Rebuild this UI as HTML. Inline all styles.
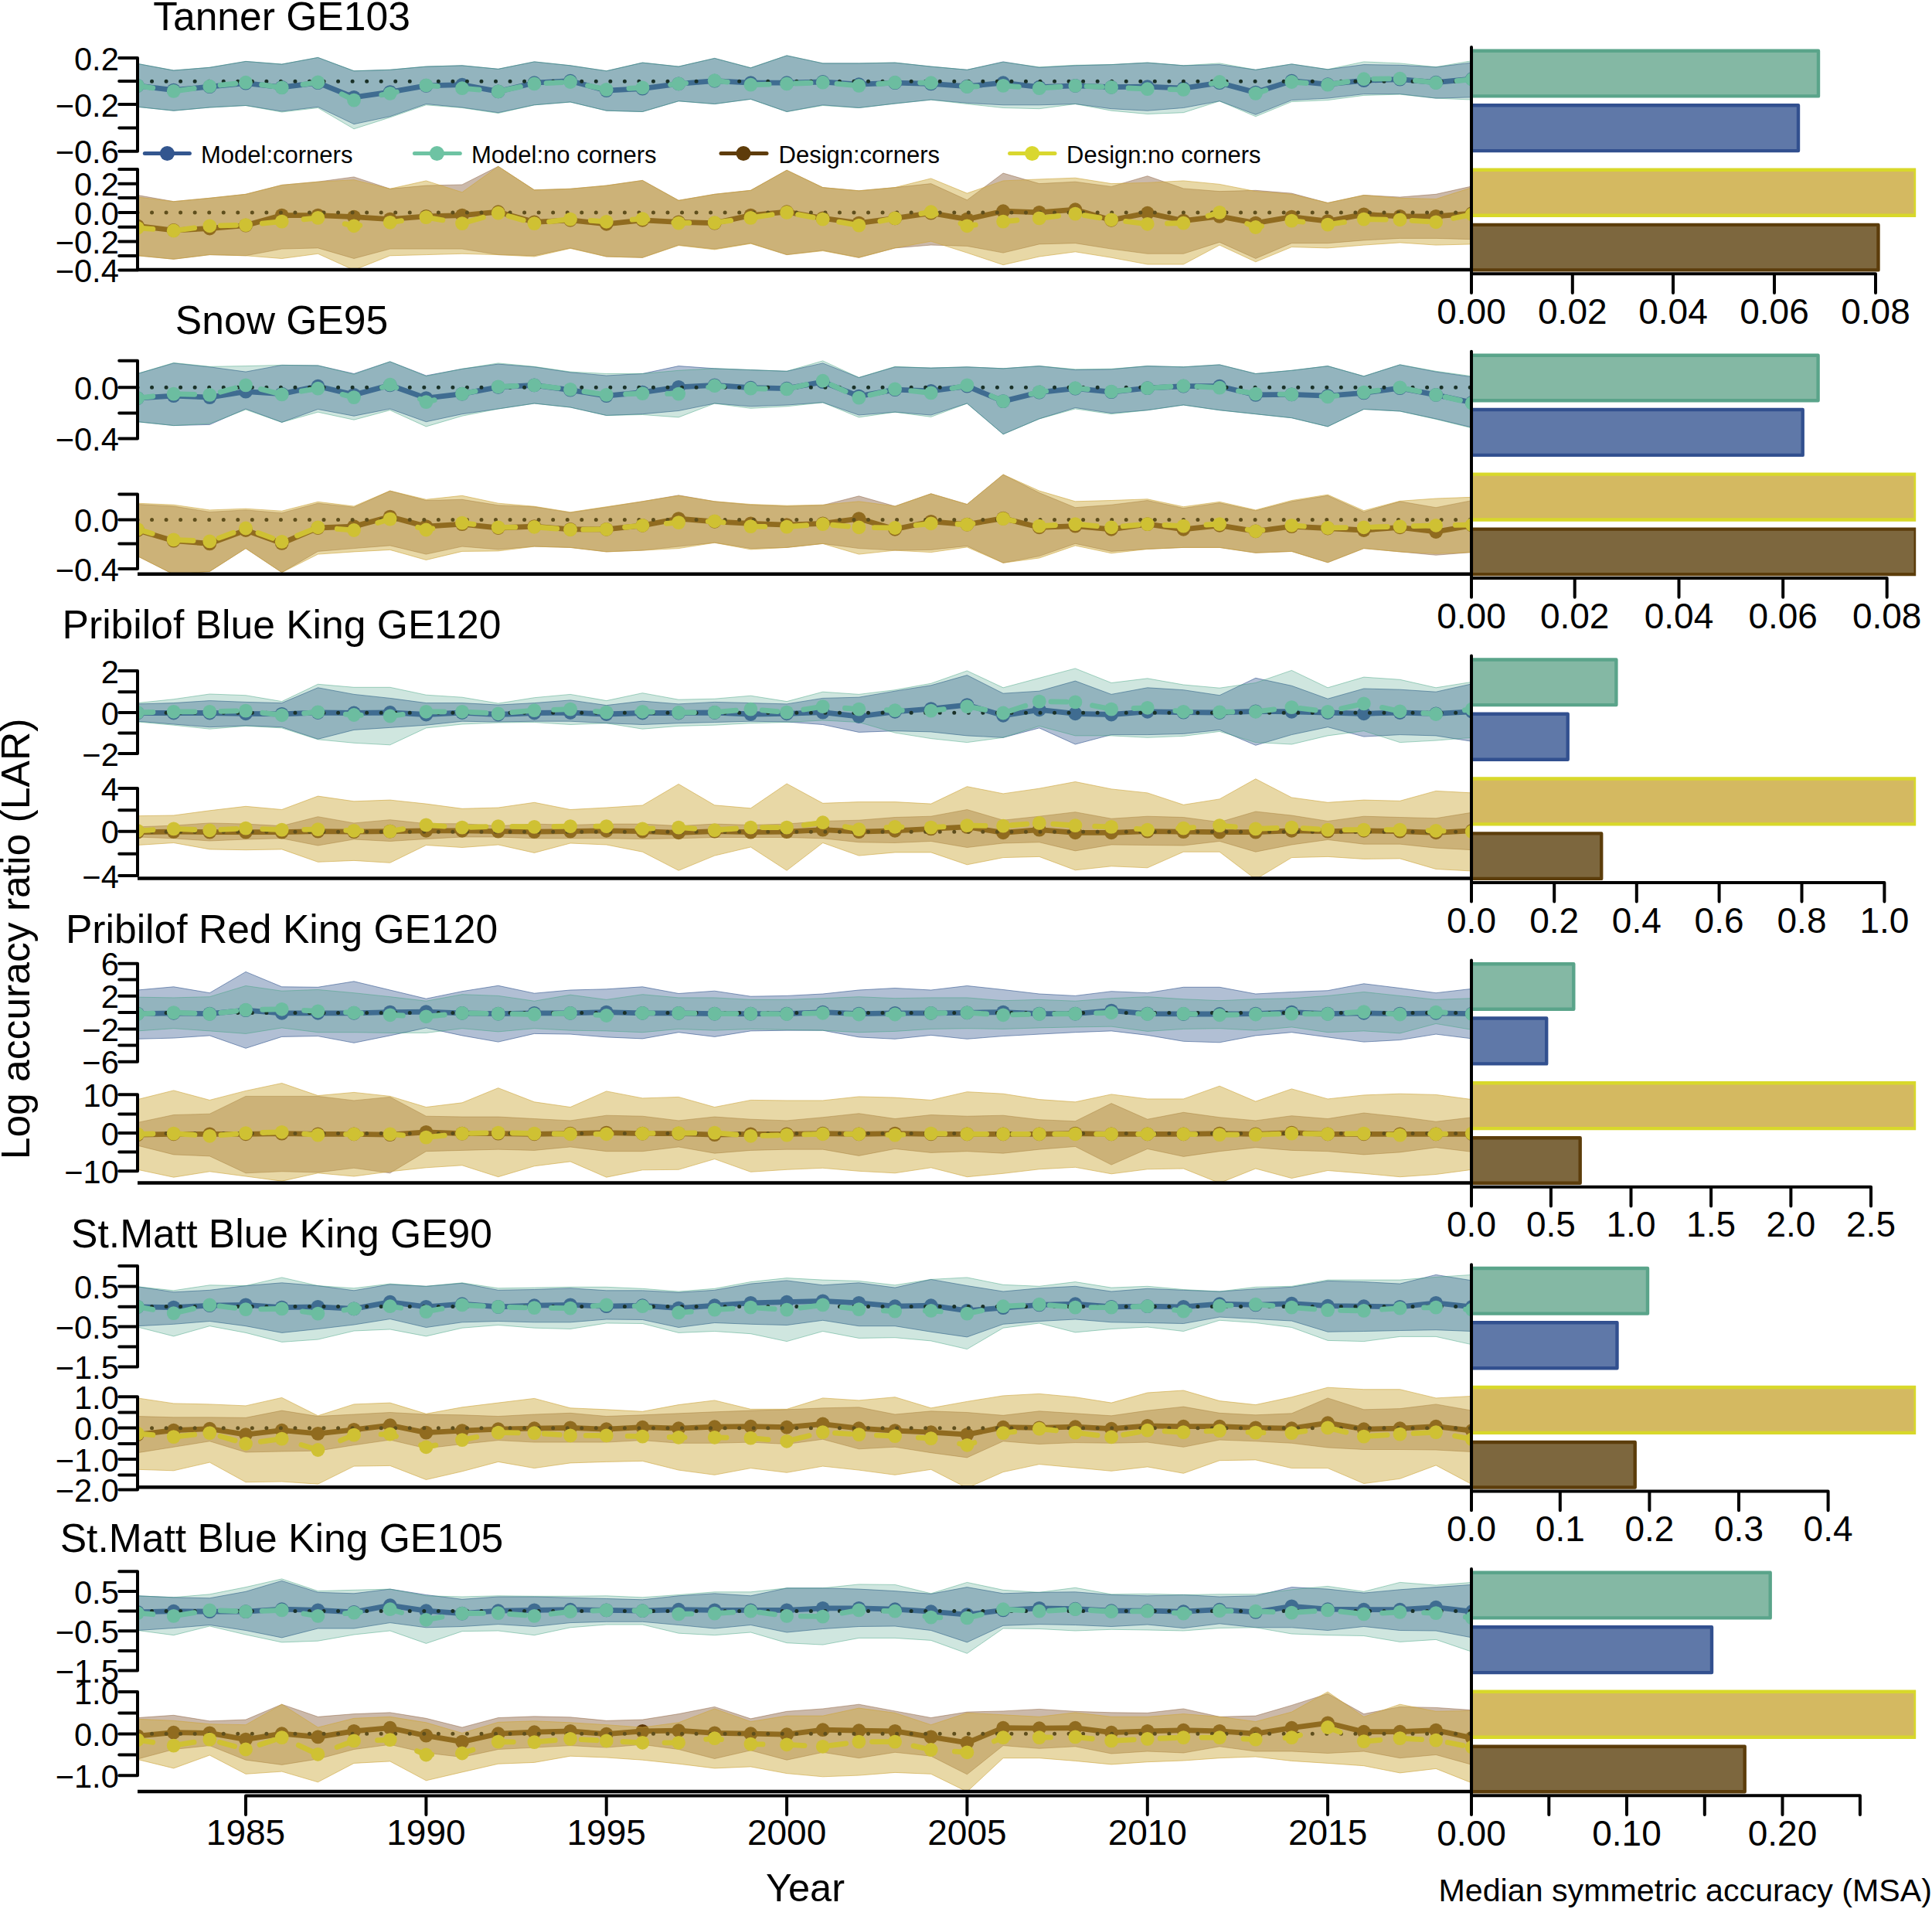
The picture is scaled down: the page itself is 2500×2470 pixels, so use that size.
<!DOCTYPE html><html><head><meta charset="utf-8"><title>LAR and MSA by stock</title>
<style>html,body{margin:0;padding:0;background:#fff}svg{display:block}text{font-family:"Liberation Sans", Arial, Helvetica, sans-serif;fill:#000}.ax{stroke:#000;stroke-width:4;fill:none;stroke-linecap:round;stroke-linejoin:miter}.yl{font-size:41.6px;text-anchor:end}.xl{font-size:46px;text-anchor:middle}.tt{font-size:51.6px;text-anchor:middle}.lg{font-size:31px}.z{stroke:#000;stroke-width:5;stroke-linecap:round;stroke-dasharray:0 18.54;fill:none}</style></head><body>
<svg width="2500" height="2470" viewBox="0 0 2500 2470">
<defs><clipPath id="cp"><rect x="178" y="0" width="1726" height="2470"/></clipPath><clipPath id="cb"><rect x="1904" y="0" width="575.2" height="2470"/></clipPath></defs>
<rect width="2500" height="2470" fill="#fff"/>
<!-- row 1 -->
<text class="tt" x="364.5" y="38.5">Tanner GE103</text>
<g clip-path="url(#cp)">
<polygon points="178.0,82.4 224.7,91.1 271.3,87.3 318.0,79.4 364.7,83.1 411.4,74.4 458.0,91.8 504.7,90.3 551.4,86.1 598.0,84.8 644.7,89.3 691.4,79.9 738.0,84.8 784.7,91.8 831.4,81.1 878.1,86.1 924.7,75.4 971.4,87.8 1018.1,71.9 1064.7,81.9 1111.4,81.9 1158.1,81.1 1204.7,86.1 1251.4,90.3 1298.1,79.9 1344.8,87.3 1391.4,84.8 1438.1,83.6 1484.8,81.1 1531.4,84.8 1578.1,83.6 1624.8,90.3 1671.4,82.9 1718.1,89.8 1764.8,83.6 1811.5,84.3 1858.1,86.8 1904.8,81.1 1904.8,125.8 1858.1,127.1 1811.5,121.6 1764.8,121.6 1718.1,127.1 1671.4,129.6 1624.8,148.2 1578.1,130.8 1531.4,139.5 1484.8,143.2 1438.1,140.7 1391.4,134.5 1344.8,135.8 1298.1,135.8 1251.4,133.3 1204.7,129.1 1158.1,134.0 1111.4,139.5 1064.7,135.8 1018.1,144.5 971.4,128.3 924.7,134.5 878.1,130.8 831.4,144.5 784.7,143.2 738.0,132.0 691.4,135.8 644.7,145.7 598.0,139.0 551.4,134.5 504.7,150.7 458.0,160.6 411.4,138.3 364.7,144.0 318.0,136.5 271.3,139.0 224.7,143.2 178.0,138.3" fill="rgba(51,86,143,0.38)" stroke="rgba(51,86,143,0.6)" stroke-width="1"/>
<polyline points="178.0,110.9 224.7,116.6 271.3,112.2 318.0,107.7 364.7,112.9 411.4,107.2 458.0,125.8 504.7,119.1 551.4,110.9 598.0,109.7 644.7,118.4 691.4,107.2 738.0,104.7 784.7,117.1 831.4,114.7 878.1,108.4 924.7,104.7 971.4,107.2 1018.1,107.2 1064.7,106.0 1111.4,109.2 1158.1,107.2 1204.7,108.4 1251.4,111.7 1298.1,107.2 1344.8,112.7 1391.4,110.9 1438.1,112.7 1484.8,112.2 1531.4,114.2 1578.1,107.2 1624.8,119.6 1671.4,104.7 1718.1,109.2 1764.8,104.2 1811.5,102.7 1858.1,106.7 1904.8,102.2" fill="none" stroke="#44619a" stroke-width="6.8" stroke-linejoin="round" stroke-linecap="round"/>
<g fill="#44619a"><circle cx="178.0" cy="110.9" r="8.9"/><circle cx="224.7" cy="116.6" r="8.9"/><circle cx="271.3" cy="112.2" r="8.9"/><circle cx="318.0" cy="107.7" r="8.9"/><circle cx="364.7" cy="112.9" r="8.9"/><circle cx="411.4" cy="107.2" r="8.9"/><circle cx="458.0" cy="125.8" r="8.9"/><circle cx="504.7" cy="119.1" r="8.9"/><circle cx="551.4" cy="110.9" r="8.9"/><circle cx="598.0" cy="109.7" r="8.9"/><circle cx="644.7" cy="118.4" r="8.9"/><circle cx="691.4" cy="107.2" r="8.9"/><circle cx="738.0" cy="104.7" r="8.9"/><circle cx="784.7" cy="117.1" r="8.9"/><circle cx="831.4" cy="114.7" r="8.9"/><circle cx="878.1" cy="108.4" r="8.9"/><circle cx="924.7" cy="104.7" r="8.9"/><circle cx="971.4" cy="107.2" r="8.9"/><circle cx="1018.1" cy="107.2" r="8.9"/><circle cx="1064.7" cy="106.0" r="8.9"/><circle cx="1111.4" cy="109.2" r="8.9"/><circle cx="1158.1" cy="107.2" r="8.9"/><circle cx="1204.7" cy="108.4" r="8.9"/><circle cx="1251.4" cy="111.7" r="8.9"/><circle cx="1298.1" cy="107.2" r="8.9"/><circle cx="1344.8" cy="112.7" r="8.9"/><circle cx="1391.4" cy="110.9" r="8.9"/><circle cx="1438.1" cy="112.7" r="8.9"/><circle cx="1484.8" cy="112.2" r="8.9"/><circle cx="1531.4" cy="114.2" r="8.9"/><circle cx="1578.1" cy="107.2" r="8.9"/><circle cx="1624.8" cy="119.6" r="8.9"/><circle cx="1671.4" cy="104.7" r="8.9"/><circle cx="1718.1" cy="109.2" r="8.9"/><circle cx="1764.8" cy="104.2" r="8.9"/><circle cx="1811.5" cy="102.7" r="8.9"/><circle cx="1858.1" cy="106.7" r="8.9"/><circle cx="1904.8" cy="102.2" r="8.9"/></g>
<line class="z" x1="178" y1="105.2" x2="1904" y2="105.2" style="stroke:#141411"/>
<polygon points="178.0,82.4 224.7,91.1 271.3,87.3 318.0,79.4 364.7,83.1 411.4,74.4 458.0,91.8 504.7,90.3 551.4,86.1 598.0,84.8 644.7,89.3 691.4,79.9 738.0,84.8 784.7,91.8 831.4,81.1 878.1,86.1 924.7,75.4 971.4,87.8 1018.1,71.9 1064.7,81.9 1111.4,81.9 1158.1,81.1 1204.7,86.1 1251.4,90.3 1298.1,80.4 1344.8,86.8 1391.4,84.3 1438.1,83.6 1484.8,81.1 1531.4,84.8 1578.1,81.9 1624.8,90.3 1671.4,82.9 1718.1,89.8 1764.8,79.9 1811.5,81.9 1858.1,86.8 1904.8,78.6 1904.8,129.1 1858.1,127.1 1811.5,122.1 1764.8,123.4 1718.1,129.6 1671.4,131.6 1624.8,150.7 1578.1,130.8 1531.4,145.7 1484.8,147.5 1438.1,143.2 1391.4,134.5 1344.8,140.7 1298.1,139.5 1251.4,134.5 1204.7,129.1 1158.1,134.0 1111.4,139.5 1064.7,136.5 1018.1,144.5 971.4,128.3 924.7,134.5 878.1,130.8 831.4,144.5 784.7,143.2 738.0,132.0 691.4,135.8 644.7,146.5 598.0,139.5 551.4,135.8 504.7,151.9 458.0,166.8 411.4,139.5 364.7,145.0 318.0,136.5 271.3,139.0 224.7,143.2 178.0,138.3" fill="rgba(46,146,116,0.23)" stroke="rgba(60,160,125,0.45)" stroke-width="1"/>
<polyline points="178.0,110.9 224.7,117.9 271.3,111.7 318.0,106.7 364.7,113.4 411.4,106.5 458.0,129.6 504.7,120.9 551.4,110.4 598.0,114.2 644.7,118.4 691.4,108.4 738.0,106.0 784.7,115.9 831.4,113.4 878.1,108.4 924.7,104.2 971.4,109.7 1018.1,108.4 1064.7,106.7 1111.4,110.9 1158.1,106.7 1204.7,107.2 1251.4,112.2 1298.1,110.9 1344.8,114.2 1391.4,110.9 1438.1,112.9 1484.8,115.2 1531.4,115.9 1578.1,106.0 1624.8,120.9 1671.4,106.0 1718.1,109.7 1764.8,102.2 1811.5,101.7 1858.1,107.2 1904.8,102.7" fill="none" stroke="#6cbda0" stroke-width="6.8" stroke-dasharray="20 34" stroke-linecap="round" stroke-linejoin="round"/>
<g fill="#6cbda0"><circle cx="178.0" cy="110.9" r="8.9"/><circle cx="224.7" cy="117.9" r="8.9"/><circle cx="271.3" cy="111.7" r="8.9"/><circle cx="318.0" cy="106.7" r="8.9"/><circle cx="364.7" cy="113.4" r="8.9"/><circle cx="411.4" cy="106.5" r="8.9"/><circle cx="458.0" cy="129.6" r="8.9"/><circle cx="504.7" cy="120.9" r="8.9"/><circle cx="551.4" cy="110.4" r="8.9"/><circle cx="598.0" cy="114.2" r="8.9"/><circle cx="644.7" cy="118.4" r="8.9"/><circle cx="691.4" cy="108.4" r="8.9"/><circle cx="738.0" cy="106.0" r="8.9"/><circle cx="784.7" cy="115.9" r="8.9"/><circle cx="831.4" cy="113.4" r="8.9"/><circle cx="878.1" cy="108.4" r="8.9"/><circle cx="924.7" cy="104.2" r="8.9"/><circle cx="971.4" cy="109.7" r="8.9"/><circle cx="1018.1" cy="108.4" r="8.9"/><circle cx="1064.7" cy="106.7" r="8.9"/><circle cx="1111.4" cy="110.9" r="8.9"/><circle cx="1158.1" cy="106.7" r="8.9"/><circle cx="1204.7" cy="107.2" r="8.9"/><circle cx="1251.4" cy="112.2" r="8.9"/><circle cx="1298.1" cy="110.9" r="8.9"/><circle cx="1344.8" cy="114.2" r="8.9"/><circle cx="1391.4" cy="110.9" r="8.9"/><circle cx="1438.1" cy="112.9" r="8.9"/><circle cx="1484.8" cy="115.2" r="8.9"/><circle cx="1531.4" cy="115.9" r="8.9"/><circle cx="1578.1" cy="106.0" r="8.9"/><circle cx="1624.8" cy="120.9" r="8.9"/><circle cx="1671.4" cy="106.0" r="8.9"/><circle cx="1718.1" cy="109.7" r="8.9"/><circle cx="1764.8" cy="102.2" r="8.9"/><circle cx="1811.5" cy="101.7" r="8.9"/><circle cx="1858.1" cy="107.2" r="8.9"/><circle cx="1904.8" cy="102.7" r="8.9"/></g>
</g>
<g clip-path="url(#cp)">
<polygon points="178.0,252.5 224.7,260.7 271.3,256.3 318.0,251.3 364.7,239.4 411.4,235.2 458.0,228.9 504.7,244.3 551.4,240.1 598.0,238.9 644.7,215.3 691.4,245.8 738.0,244.3 784.7,240.1 831.4,233.4 878.1,259.3 924.7,251.3 971.4,246.3 1018.1,220.2 1064.7,242.6 1111.4,246.8 1158.1,242.6 1204.7,237.6 1251.4,258.8 1298.1,224.0 1344.8,237.6 1391.4,235.2 1438.1,241.4 1484.8,227.7 1531.4,243.9 1578.1,247.6 1624.8,246.3 1671.4,250.1 1718.1,262.5 1764.8,252.5 1811.5,255.0 1858.1,251.3 1904.8,240.9 1904.8,309.7 1858.1,308.4 1811.5,308.4 1764.8,310.9 1718.1,314.7 1671.4,314.7 1624.8,334.5 1578.1,313.4 1531.4,328.3 1484.8,328.3 1438.1,322.1 1391.4,314.7 1344.8,315.9 1298.1,327.1 1251.4,318.4 1204.7,317.1 1158.1,320.9 1111.4,333.3 1064.7,323.9 1018.1,329.6 971.4,314.7 924.7,322.1 878.1,317.1 831.4,333.3 784.7,332.0 738.0,320.9 691.4,330.8 644.7,329.6 598.0,322.1 551.4,322.1 504.7,322.1 458.0,334.5 411.4,320.9 364.7,322.1 318.0,330.8 271.3,329.6 224.7,335.3 178.0,330.8" fill="rgba(110,60,20,0.36)" stroke="rgba(120,70,30,0.4)" stroke-width="1"/>
<polyline points="178.0,292.3 224.7,298.0 271.3,295.5 318.0,291.6 364.7,278.6 411.4,278.6 458.0,280.6 504.7,283.6 551.4,279.9 598.0,278.6 644.7,274.2 691.4,287.3 738.0,284.8 784.7,289.8 831.4,284.8 878.1,287.3 924.7,288.6 971.4,278.6 1018.1,274.2 1064.7,282.4 1111.4,288.6 1158.1,282.4 1204.7,275.7 1251.4,283.6 1298.1,273.2 1344.8,274.9 1391.4,271.2 1438.1,284.8 1484.8,275.7 1531.4,285.6 1578.1,279.9 1624.8,288.6 1671.4,280.6 1718.1,286.1 1764.8,277.4 1811.5,279.9 1858.1,279.9 1904.8,276.1" fill="none" stroke="#5d3706" stroke-width="6.8" stroke-linejoin="round" stroke-linecap="round"/>
<g fill="#5d3706"><circle cx="178.0" cy="292.3" r="8.9"/><circle cx="224.7" cy="298.0" r="8.9"/><circle cx="271.3" cy="295.5" r="8.9"/><circle cx="318.0" cy="291.6" r="8.9"/><circle cx="364.7" cy="278.6" r="8.9"/><circle cx="411.4" cy="278.6" r="8.9"/><circle cx="458.0" cy="280.6" r="8.9"/><circle cx="504.7" cy="283.6" r="8.9"/><circle cx="551.4" cy="279.9" r="8.9"/><circle cx="598.0" cy="278.6" r="8.9"/><circle cx="644.7" cy="274.2" r="8.9"/><circle cx="691.4" cy="287.3" r="8.9"/><circle cx="738.0" cy="284.8" r="8.9"/><circle cx="784.7" cy="289.8" r="8.9"/><circle cx="831.4" cy="284.8" r="8.9"/><circle cx="878.1" cy="287.3" r="8.9"/><circle cx="924.7" cy="288.6" r="8.9"/><circle cx="971.4" cy="278.6" r="8.9"/><circle cx="1018.1" cy="274.2" r="8.9"/><circle cx="1064.7" cy="282.4" r="8.9"/><circle cx="1111.4" cy="288.6" r="8.9"/><circle cx="1158.1" cy="282.4" r="8.9"/><circle cx="1204.7" cy="275.7" r="8.9"/><circle cx="1251.4" cy="283.6" r="8.9"/><circle cx="1298.1" cy="273.2" r="8.9"/><circle cx="1344.8" cy="274.9" r="8.9"/><circle cx="1391.4" cy="271.2" r="8.9"/><circle cx="1438.1" cy="284.8" r="8.9"/><circle cx="1484.8" cy="275.7" r="8.9"/><circle cx="1531.4" cy="285.6" r="8.9"/><circle cx="1578.1" cy="279.9" r="8.9"/><circle cx="1624.8" cy="288.6" r="8.9"/><circle cx="1671.4" cy="280.6" r="8.9"/><circle cx="1718.1" cy="286.1" r="8.9"/><circle cx="1764.8" cy="277.4" r="8.9"/><circle cx="1811.5" cy="279.9" r="8.9"/><circle cx="1858.1" cy="279.9" r="8.9"/><circle cx="1904.8" cy="276.1" r="8.9"/></g>
<line class="z" x1="178" y1="275" x2="1904" y2="275" style="stroke:#000"/>
<polygon points="178.0,255.0 224.7,260.7 271.3,256.3 318.0,251.3 364.7,239.4 411.4,235.2 458.0,232.7 504.7,244.3 551.4,233.9 598.0,248.8 644.7,215.3 691.4,245.8 738.0,244.3 784.7,240.1 831.4,233.4 878.1,259.3 924.7,251.3 971.4,246.3 1018.1,220.2 1064.7,242.6 1111.4,246.8 1158.1,242.6 1204.7,230.9 1251.4,250.1 1298.1,233.9 1344.8,231.9 1391.4,230.2 1438.1,237.6 1484.8,236.4 1531.4,233.9 1578.1,238.4 1624.8,247.6 1671.4,251.3 1718.1,262.5 1764.8,252.5 1811.5,256.3 1858.1,257.5 1904.8,242.6 1904.8,315.9 1858.1,317.1 1811.5,313.9 1764.8,317.1 1718.1,320.9 1671.4,319.6 1624.8,338.8 1578.1,317.1 1531.4,342.0 1484.8,342.0 1438.1,333.3 1391.4,325.8 1344.8,332.0 1298.1,342.7 1251.4,327.1 1204.7,312.2 1158.1,320.9 1111.4,333.3 1064.7,324.6 1018.1,329.6 971.4,315.2 924.7,322.9 878.1,317.6 831.4,333.3 784.7,332.0 738.0,321.4 691.4,332.0 644.7,329.6 598.0,328.3 551.4,329.6 504.7,330.8 458.0,349.4 411.4,328.3 364.7,334.5 318.0,330.8 271.3,329.6 224.7,335.3 178.0,330.8" fill="rgba(205,170,60,0.46)" stroke="rgba(205,165,60,0.6)" stroke-width="1"/>
<polyline points="178.0,294.8 224.7,298.5 271.3,292.3 318.0,291.1 364.7,286.6 411.4,281.9 458.0,292.3 504.7,287.8 551.4,281.1 598.0,289.1 644.7,275.7 691.4,289.1 738.0,283.6 784.7,286.8 831.4,283.1 878.1,288.6 924.7,288.1 971.4,281.9 1018.1,274.9 1064.7,283.6 1111.4,291.6 1158.1,282.4 1204.7,274.2 1251.4,292.3 1298.1,286.6 1344.8,282.4 1391.4,276.6 1438.1,284.3 1484.8,289.8 1531.4,288.6 1578.1,274.9 1624.8,294.0 1671.4,285.6 1718.1,290.6 1764.8,283.6 1811.5,284.3 1858.1,287.3 1904.8,277.4" fill="none" stroke="#cfc133" stroke-width="6.8" stroke-dasharray="20 34" stroke-linecap="round" stroke-linejoin="round"/>
<g fill="#cfc133"><circle cx="178.0" cy="294.8" r="8.9"/><circle cx="224.7" cy="298.5" r="8.9"/><circle cx="271.3" cy="292.3" r="8.9"/><circle cx="318.0" cy="291.1" r="8.9"/><circle cx="364.7" cy="286.6" r="8.9"/><circle cx="411.4" cy="281.9" r="8.9"/><circle cx="458.0" cy="292.3" r="8.9"/><circle cx="504.7" cy="287.8" r="8.9"/><circle cx="551.4" cy="281.1" r="8.9"/><circle cx="598.0" cy="289.1" r="8.9"/><circle cx="644.7" cy="275.7" r="8.9"/><circle cx="691.4" cy="289.1" r="8.9"/><circle cx="738.0" cy="283.6" r="8.9"/><circle cx="784.7" cy="286.8" r="8.9"/><circle cx="831.4" cy="283.1" r="8.9"/><circle cx="878.1" cy="288.6" r="8.9"/><circle cx="924.7" cy="288.1" r="8.9"/><circle cx="971.4" cy="281.9" r="8.9"/><circle cx="1018.1" cy="274.9" r="8.9"/><circle cx="1064.7" cy="283.6" r="8.9"/><circle cx="1111.4" cy="291.6" r="8.9"/><circle cx="1158.1" cy="282.4" r="8.9"/><circle cx="1204.7" cy="274.2" r="8.9"/><circle cx="1251.4" cy="292.3" r="8.9"/><circle cx="1298.1" cy="286.6" r="8.9"/><circle cx="1344.8" cy="282.4" r="8.9"/><circle cx="1391.4" cy="276.6" r="8.9"/><circle cx="1438.1" cy="284.3" r="8.9"/><circle cx="1484.8" cy="289.8" r="8.9"/><circle cx="1531.4" cy="288.6" r="8.9"/><circle cx="1578.1" cy="274.9" r="8.9"/><circle cx="1624.8" cy="294.0" r="8.9"/><circle cx="1671.4" cy="285.6" r="8.9"/><circle cx="1718.1" cy="290.6" r="8.9"/><circle cx="1764.8" cy="283.6" r="8.9"/><circle cx="1811.5" cy="284.3" r="8.9"/><circle cx="1858.1" cy="287.3" r="8.9"/><circle cx="1904.8" cy="277.4" r="8.9"/></g>
</g>
<rect x="1904" y="65.8" width="449.0" height="58.6" fill="#84b8a4" stroke="#5aa48a" stroke-width="4.4" stroke-linejoin="round" clip-path="url(#cb)"/>
<rect x="1904" y="136.2" width="423.0" height="58.9" fill="#5f78a8" stroke="#32508f" stroke-width="4.4" stroke-linejoin="round" clip-path="url(#cb)"/>
<rect x="1904" y="219.8" width="574.7" height="58.9" fill="#d4b961" stroke="#d8d82a" stroke-width="4.4" stroke-linejoin="round" clip-path="url(#cb)"/>
<rect x="1904" y="290.9" width="526.5" height="58.5" fill="#7d673e" stroke="#5c3d0b" stroke-width="4.4" stroke-linejoin="round" clip-path="url(#cb)"/>
<path class="ax" d="M178 75V195.7M154.2 75H178M154.2 105H178M154.2 135H178M154.2 165.6H178M154.2 195.7H178"/><text class="yl" x="153.8" y="90.6">0.2</text><text class="yl" x="153.8" y="150.6">−0.2</text><text class="yl" x="153.8" y="211.3">−0.6</text>
<path class="ax" d="M178 219V349.4M154.2 219H178M154.2 237.8H178M154.2 256H178M154.2 275H178M154.2 293.8H178M154.2 312.5H178M154.2 331H178M154.2 349.4H178"/><text class="yl" x="153.8" y="253.4">0.2</text><text class="yl" x="153.8" y="290.6">0.0</text><text class="yl" x="153.8" y="328.1">−0.2</text><text class="yl" x="153.8" y="365.0">−0.4</text>
<path class="ax" style="stroke-linecap:butt;stroke-width:4.5" d="M178 349.0H1904"/>
<path class="ax" d="M1904 61.0V379.0M1904 354.3H2427M2034.8 354.3V379.0M2165 354.3V379.0M2296 354.3V379.0M2427 354.3V379.0"/>
<text class="xl" x="1904" y="419.0">0.00</text>
<text class="xl" x="2034.8" y="419.0">0.02</text>
<text class="xl" x="2165" y="419.0">0.04</text>
<text class="xl" x="2296" y="419.0">0.06</text>
<text class="xl" x="2427" y="419.0">0.08</text>
<!-- row 2 -->
<text class="tt" x="364.5" y="432.3">Snow GE95</text>
<g clip-path="url(#cp)">
<polygon points="178.0,483.5 224.7,469.9 271.3,474.8 318.0,481.1 364.7,472.4 411.4,472.9 458.0,483.5 504.7,467.9 551.4,486.0 598.0,477.3 644.7,471.1 691.4,474.8 738.0,481.8 784.7,486.0 831.4,483.5 878.1,473.6 924.7,476.8 971.4,478.6 1018.1,480.3 1064.7,469.9 1111.4,488.5 1158.1,474.8 1204.7,476.1 1251.4,474.8 1298.1,476.8 1344.8,473.6 1391.4,478.6 1438.1,477.8 1484.8,473.6 1531.4,474.8 1578.1,471.9 1624.8,483.5 1671.4,479.3 1718.1,473.6 1764.8,486.8 1811.5,471.9 1858.1,481.1 1904.8,487.8 1904.8,553.1 1858.1,541.9 1811.5,532.0 1764.8,529.5 1718.1,551.9 1671.4,540.7 1624.8,535.7 1578.1,530.7 1531.4,524.0 1484.8,530.7 1438.1,534.5 1391.4,527.5 1344.8,541.9 1298.1,561.8 1251.4,522.0 1204.7,537.0 1158.1,533.2 1111.4,537.0 1064.7,520.8 1018.1,524.0 971.4,525.8 924.7,522.0 878.1,531.5 831.4,535.7 784.7,537.5 738.0,527.0 691.4,522.0 644.7,529.0 598.0,535.7 551.4,545.7 504.7,529.0 458.0,538.2 411.4,529.5 364.7,546.4 318.0,529.0 271.3,549.4 224.7,550.6 178.0,545.7" fill="rgba(51,86,143,0.38)" stroke="rgba(51,86,143,0.6)" stroke-width="1"/>
<polyline points="178.0,515.1 224.7,512.1 271.3,514.1 318.0,506.6 364.7,509.6 411.4,499.7 458.0,510.9 504.7,498.4 551.4,515.1 598.0,509.6 644.7,500.9 691.4,498.4 738.0,504.7 784.7,512.1 831.4,507.6 878.1,500.9 924.7,498.4 971.4,501.7 1018.1,502.7 1064.7,494.2 1111.4,512.6 1158.1,504.2 1204.7,505.9 1251.4,499.7 1298.1,519.1 1344.8,507.6 1391.4,502.7 1438.1,507.1 1484.8,502.2 1531.4,499.7 1578.1,499.7 1624.8,510.9 1671.4,510.4 1718.1,512.1 1764.8,508.4 1811.5,502.2 1858.1,510.9 1904.8,520.8" fill="none" stroke="#44619a" stroke-width="6.8" stroke-linejoin="round" stroke-linecap="round"/>
<g fill="#44619a"><circle cx="178.0" cy="515.1" r="8.9"/><circle cx="224.7" cy="512.1" r="8.9"/><circle cx="271.3" cy="514.1" r="8.9"/><circle cx="318.0" cy="506.6" r="8.9"/><circle cx="364.7" cy="509.6" r="8.9"/><circle cx="411.4" cy="499.7" r="8.9"/><circle cx="458.0" cy="510.9" r="8.9"/><circle cx="504.7" cy="498.4" r="8.9"/><circle cx="551.4" cy="515.1" r="8.9"/><circle cx="598.0" cy="509.6" r="8.9"/><circle cx="644.7" cy="500.9" r="8.9"/><circle cx="691.4" cy="498.4" r="8.9"/><circle cx="738.0" cy="504.7" r="8.9"/><circle cx="784.7" cy="512.1" r="8.9"/><circle cx="831.4" cy="507.6" r="8.9"/><circle cx="878.1" cy="500.9" r="8.9"/><circle cx="924.7" cy="498.4" r="8.9"/><circle cx="971.4" cy="501.7" r="8.9"/><circle cx="1018.1" cy="502.7" r="8.9"/><circle cx="1064.7" cy="494.2" r="8.9"/><circle cx="1111.4" cy="512.6" r="8.9"/><circle cx="1158.1" cy="504.2" r="8.9"/><circle cx="1204.7" cy="505.9" r="8.9"/><circle cx="1251.4" cy="499.7" r="8.9"/><circle cx="1298.1" cy="519.1" r="8.9"/><circle cx="1344.8" cy="507.6" r="8.9"/><circle cx="1391.4" cy="502.7" r="8.9"/><circle cx="1438.1" cy="507.1" r="8.9"/><circle cx="1484.8" cy="502.2" r="8.9"/><circle cx="1531.4" cy="499.7" r="8.9"/><circle cx="1578.1" cy="499.7" r="8.9"/><circle cx="1624.8" cy="510.9" r="8.9"/><circle cx="1671.4" cy="510.4" r="8.9"/><circle cx="1718.1" cy="512.1" r="8.9"/><circle cx="1764.8" cy="508.4" r="8.9"/><circle cx="1811.5" cy="502.2" r="8.9"/><circle cx="1858.1" cy="510.9" r="8.9"/><circle cx="1904.8" cy="520.8" r="8.9"/></g>
<line class="z" x1="178" y1="501.3" x2="1904" y2="501.3" style="stroke:#141411"/>
<polygon points="178.0,483.5 224.7,469.4 271.3,474.3 318.0,473.6 364.7,472.4 411.4,472.9 458.0,484.3 504.7,467.9 551.4,486.8 598.0,477.3 644.7,469.9 691.4,474.3 738.0,481.1 784.7,483.5 831.4,483.5 878.1,479.3 924.7,476.8 971.4,478.6 1018.1,480.3 1064.7,466.9 1111.4,488.5 1158.1,474.3 1204.7,476.1 1251.4,474.8 1298.1,476.8 1344.8,473.6 1391.4,477.8 1438.1,477.3 1484.8,473.6 1531.4,474.8 1578.1,471.9 1624.8,483.5 1671.4,479.3 1718.1,473.6 1764.8,486.8 1811.5,471.9 1858.1,480.3 1904.8,486.8 1904.8,553.9 1858.1,542.4 1811.5,532.0 1764.8,529.5 1718.1,551.9 1671.4,540.7 1624.8,535.7 1578.1,530.7 1531.4,524.0 1484.8,530.7 1438.1,535.7 1391.4,529.0 1344.8,541.9 1298.1,561.8 1251.4,522.0 1204.7,539.4 1158.1,533.2 1111.4,539.9 1064.7,520.8 1018.1,525.8 971.4,528.3 924.7,522.0 878.1,539.9 831.4,536.5 784.7,537.5 738.0,527.0 691.4,522.0 644.7,529.0 598.0,538.2 551.4,551.9 504.7,530.7 458.0,543.2 411.4,533.2 364.7,546.4 318.0,530.0 271.3,548.1 224.7,550.6 178.0,545.7" fill="rgba(46,146,116,0.23)" stroke="rgba(60,160,125,0.45)" stroke-width="1"/>
<polyline points="178.0,515.1 224.7,509.6 271.3,510.9 318.0,498.4 364.7,510.4 411.4,502.7 458.0,514.1 504.7,497.7 551.4,520.1 598.0,509.6 644.7,500.4 691.4,498.4 738.0,503.9 784.7,510.9 831.4,509.1 878.1,509.6 924.7,499.2 971.4,502.7 1018.1,503.4 1064.7,492.7 1111.4,514.6 1158.1,503.4 1204.7,508.4 1251.4,498.4 1298.1,519.1 1344.8,507.1 1391.4,502.2 1438.1,506.6 1484.8,502.2 1531.4,499.2 1578.1,501.7 1624.8,509.6 1671.4,510.4 1718.1,513.4 1764.8,507.6 1811.5,501.4 1858.1,510.9 1904.8,521.6" fill="none" stroke="#6cbda0" stroke-width="6.8" stroke-dasharray="20 34" stroke-linecap="round" stroke-linejoin="round"/>
<g fill="#6cbda0"><circle cx="178.0" cy="515.1" r="8.9"/><circle cx="224.7" cy="509.6" r="8.9"/><circle cx="271.3" cy="510.9" r="8.9"/><circle cx="318.0" cy="498.4" r="8.9"/><circle cx="364.7" cy="510.4" r="8.9"/><circle cx="411.4" cy="502.7" r="8.9"/><circle cx="458.0" cy="514.1" r="8.9"/><circle cx="504.7" cy="497.7" r="8.9"/><circle cx="551.4" cy="520.1" r="8.9"/><circle cx="598.0" cy="509.6" r="8.9"/><circle cx="644.7" cy="500.4" r="8.9"/><circle cx="691.4" cy="498.4" r="8.9"/><circle cx="738.0" cy="503.9" r="8.9"/><circle cx="784.7" cy="510.9" r="8.9"/><circle cx="831.4" cy="509.1" r="8.9"/><circle cx="878.1" cy="509.6" r="8.9"/><circle cx="924.7" cy="499.2" r="8.9"/><circle cx="971.4" cy="502.7" r="8.9"/><circle cx="1018.1" cy="503.4" r="8.9"/><circle cx="1064.7" cy="492.7" r="8.9"/><circle cx="1111.4" cy="514.6" r="8.9"/><circle cx="1158.1" cy="503.4" r="8.9"/><circle cx="1204.7" cy="508.4" r="8.9"/><circle cx="1251.4" cy="498.4" r="8.9"/><circle cx="1298.1" cy="519.1" r="8.9"/><circle cx="1344.8" cy="507.1" r="8.9"/><circle cx="1391.4" cy="502.2" r="8.9"/><circle cx="1438.1" cy="506.6" r="8.9"/><circle cx="1484.8" cy="502.2" r="8.9"/><circle cx="1531.4" cy="499.2" r="8.9"/><circle cx="1578.1" cy="501.7" r="8.9"/><circle cx="1624.8" cy="509.6" r="8.9"/><circle cx="1671.4" cy="510.4" r="8.9"/><circle cx="1718.1" cy="513.4" r="8.9"/><circle cx="1764.8" cy="507.6" r="8.9"/><circle cx="1811.5" cy="501.4" r="8.9"/><circle cx="1858.1" cy="510.9" r="8.9"/><circle cx="1904.8" cy="521.6" r="8.9"/></g>
</g>
<g clip-path="url(#cp)">
<polygon points="178.0,652.5 224.7,655.0 271.3,662.4 318.0,659.9 364.7,663.7 411.4,651.2 458.0,656.2 504.7,635.1 551.4,647.5 598.0,646.3 644.7,653.7 691.4,655.7 738.0,663.2 784.7,656.2 831.4,648.8 878.1,640.8 924.7,648.8 971.4,653.2 1018.1,655.0 1064.7,653.7 1111.4,641.8 1158.1,655.0 1204.7,638.8 1251.4,652.5 1298.1,614.0 1344.8,637.6 1391.4,656.7 1438.1,653.2 1484.8,647.5 1531.4,657.5 1578.1,650.7 1624.8,660.7 1671.4,648.8 1718.1,641.3 1764.8,662.4 1811.5,648.8 1858.1,656.7 1904.8,647.5 1904.8,714.6 1858.1,718.3 1811.5,713.9 1764.8,709.6 1718.1,727.8 1671.4,713.4 1624.8,715.3 1578.1,708.4 1531.4,708.4 1484.8,710.4 1438.1,713.4 1391.4,703.4 1344.8,719.6 1298.1,728.3 1251.4,706.4 1204.7,711.4 1158.1,712.1 1111.4,709.6 1064.7,703.4 1018.1,708.4 971.4,709.6 924.7,702.2 878.1,707.1 831.4,712.1 784.7,713.9 738.0,708.4 691.4,707.1 644.7,710.9 598.0,707.1 551.4,717.1 504.7,705.9 458.0,709.6 411.4,713.4 364.7,740.7 318.0,709.6 271.3,739.4 224.7,743.2 178.0,719.6" fill="rgba(110,60,20,0.36)" stroke="rgba(120,70,30,0.4)" stroke-width="1"/>
<polyline points="178.0,686.0 224.7,699.7 271.3,703.4 318.0,686.0 364.7,702.9 411.4,683.0 458.0,681.1 504.7,668.6 551.4,681.1 598.0,678.1 644.7,683.0 691.4,681.1 738.0,684.8 784.7,684.8 831.4,679.8 878.1,671.1 924.7,674.8 971.4,677.3 1018.1,679.1 1064.7,677.3 1111.4,671.1 1158.1,684.8 1204.7,674.8 1251.4,678.6 1298.1,670.6 1344.8,682.3 1391.4,680.6 1438.1,684.8 1484.8,678.1 1531.4,684.8 1578.1,679.8 1624.8,687.3 1671.4,681.1 1718.1,683.5 1764.8,686.0 1811.5,682.3 1858.1,688.0 1904.8,679.8" fill="none" stroke="#5d3706" stroke-width="6.8" stroke-linejoin="round" stroke-linecap="round"/>
<g fill="#5d3706"><circle cx="178.0" cy="686.0" r="8.9"/><circle cx="224.7" cy="699.7" r="8.9"/><circle cx="271.3" cy="703.4" r="8.9"/><circle cx="318.0" cy="686.0" r="8.9"/><circle cx="364.7" cy="702.9" r="8.9"/><circle cx="411.4" cy="683.0" r="8.9"/><circle cx="458.0" cy="681.1" r="8.9"/><circle cx="504.7" cy="668.6" r="8.9"/><circle cx="551.4" cy="681.1" r="8.9"/><circle cx="598.0" cy="678.1" r="8.9"/><circle cx="644.7" cy="683.0" r="8.9"/><circle cx="691.4" cy="681.1" r="8.9"/><circle cx="738.0" cy="684.8" r="8.9"/><circle cx="784.7" cy="684.8" r="8.9"/><circle cx="831.4" cy="679.8" r="8.9"/><circle cx="878.1" cy="671.1" r="8.9"/><circle cx="924.7" cy="674.8" r="8.9"/><circle cx="971.4" cy="677.3" r="8.9"/><circle cx="1018.1" cy="679.1" r="8.9"/><circle cx="1064.7" cy="677.3" r="8.9"/><circle cx="1111.4" cy="671.1" r="8.9"/><circle cx="1158.1" cy="684.8" r="8.9"/><circle cx="1204.7" cy="674.8" r="8.9"/><circle cx="1251.4" cy="678.6" r="8.9"/><circle cx="1298.1" cy="670.6" r="8.9"/><circle cx="1344.8" cy="682.3" r="8.9"/><circle cx="1391.4" cy="680.6" r="8.9"/><circle cx="1438.1" cy="684.8" r="8.9"/><circle cx="1484.8" cy="678.1" r="8.9"/><circle cx="1531.4" cy="684.8" r="8.9"/><circle cx="1578.1" cy="679.8" r="8.9"/><circle cx="1624.8" cy="687.3" r="8.9"/><circle cx="1671.4" cy="681.1" r="8.9"/><circle cx="1718.1" cy="683.5" r="8.9"/><circle cx="1764.8" cy="686.0" r="8.9"/><circle cx="1811.5" cy="682.3" r="8.9"/><circle cx="1858.1" cy="688.0" r="8.9"/><circle cx="1904.8" cy="679.8" r="8.9"/></g>
<line class="z" x1="178" y1="672.5" x2="1904" y2="672.5" style="stroke:#000"/>
<polygon points="178.0,651.2 224.7,653.2 271.3,659.9 318.0,658.2 364.7,661.2 411.4,649.3 458.0,655.0 504.7,635.1 551.4,646.3 598.0,641.3 644.7,651.2 691.4,655.2 738.0,662.7 784.7,655.7 831.4,648.8 878.1,641.3 924.7,648.8 971.4,652.5 1018.1,654.2 1064.7,653.2 1111.4,648.8 1158.1,655.0 1204.7,638.8 1251.4,652.5 1298.1,614.0 1344.8,635.1 1391.4,648.8 1438.1,647.5 1484.8,645.8 1531.4,655.7 1578.1,649.3 1624.8,659.9 1671.4,647.5 1718.1,640.1 1764.8,660.7 1811.5,648.3 1858.1,645.0 1904.8,643.3 1904.8,714.6 1858.1,716.3 1811.5,713.9 1764.8,709.6 1718.1,727.8 1671.4,713.4 1624.8,715.3 1578.1,708.4 1531.4,708.4 1484.8,710.4 1438.1,715.8 1391.4,705.9 1344.8,722.0 1298.1,728.3 1251.4,707.9 1204.7,714.6 1158.1,712.1 1111.4,717.1 1064.7,703.4 1018.1,708.4 971.4,710.9 924.7,702.2 878.1,709.6 831.4,712.1 784.7,713.9 738.0,708.4 691.4,707.1 644.7,712.9 598.0,713.4 551.4,724.5 504.7,711.4 458.0,713.9 411.4,717.1 364.7,740.7 318.0,709.6 271.3,739.4 224.7,743.2 178.0,719.6" fill="rgba(205,170,60,0.46)" stroke="rgba(205,165,60,0.6)" stroke-width="1"/>
<polyline points="178.0,684.8 224.7,698.4 271.3,700.4 318.0,683.5 364.7,700.9 411.4,682.3 458.0,686.0 504.7,671.6 551.4,685.5 598.0,676.6 644.7,682.3 691.4,681.8 738.0,685.3 784.7,684.8 831.4,679.8 878.1,676.1 924.7,674.3 971.4,681.1 1018.1,681.6 1064.7,678.1 1111.4,682.3 1158.1,683.0 1204.7,677.3 1251.4,678.6 1298.1,671.1 1344.8,680.6 1391.4,678.1 1438.1,682.3 1484.8,678.1 1531.4,680.6 1578.1,678.1 1624.8,687.3 1671.4,679.8 1718.1,683.0 1764.8,682.3 1811.5,681.1 1858.1,679.8 1904.8,679.1" fill="none" stroke="#cfc133" stroke-width="6.8" stroke-dasharray="20 34" stroke-linecap="round" stroke-linejoin="round"/>
<g fill="#cfc133"><circle cx="178.0" cy="684.8" r="8.9"/><circle cx="224.7" cy="698.4" r="8.9"/><circle cx="271.3" cy="700.4" r="8.9"/><circle cx="318.0" cy="683.5" r="8.9"/><circle cx="364.7" cy="700.9" r="8.9"/><circle cx="411.4" cy="682.3" r="8.9"/><circle cx="458.0" cy="686.0" r="8.9"/><circle cx="504.7" cy="671.6" r="8.9"/><circle cx="551.4" cy="685.5" r="8.9"/><circle cx="598.0" cy="676.6" r="8.9"/><circle cx="644.7" cy="682.3" r="8.9"/><circle cx="691.4" cy="681.8" r="8.9"/><circle cx="738.0" cy="685.3" r="8.9"/><circle cx="784.7" cy="684.8" r="8.9"/><circle cx="831.4" cy="679.8" r="8.9"/><circle cx="878.1" cy="676.1" r="8.9"/><circle cx="924.7" cy="674.3" r="8.9"/><circle cx="971.4" cy="681.1" r="8.9"/><circle cx="1018.1" cy="681.6" r="8.9"/><circle cx="1064.7" cy="678.1" r="8.9"/><circle cx="1111.4" cy="682.3" r="8.9"/><circle cx="1158.1" cy="683.0" r="8.9"/><circle cx="1204.7" cy="677.3" r="8.9"/><circle cx="1251.4" cy="678.6" r="8.9"/><circle cx="1298.1" cy="671.1" r="8.9"/><circle cx="1344.8" cy="680.6" r="8.9"/><circle cx="1391.4" cy="678.1" r="8.9"/><circle cx="1438.1" cy="682.3" r="8.9"/><circle cx="1484.8" cy="678.1" r="8.9"/><circle cx="1531.4" cy="680.6" r="8.9"/><circle cx="1578.1" cy="678.1" r="8.9"/><circle cx="1624.8" cy="687.3" r="8.9"/><circle cx="1671.4" cy="679.8" r="8.9"/><circle cx="1718.1" cy="683.0" r="8.9"/><circle cx="1764.8" cy="682.3" r="8.9"/><circle cx="1811.5" cy="681.1" r="8.9"/><circle cx="1858.1" cy="679.8" r="8.9"/><circle cx="1904.8" cy="679.1" r="8.9"/></g>
</g>
<rect x="1904" y="459.7" width="448.6" height="58.6" fill="#84b8a4" stroke="#5aa48a" stroke-width="4.4" stroke-linejoin="round" clip-path="url(#cb)"/>
<rect x="1904" y="530.0" width="428.7" height="58.9" fill="#5f78a8" stroke="#32508f" stroke-width="4.4" stroke-linejoin="round" clip-path="url(#cb)"/>
<rect x="1904" y="613.6" width="574.7" height="58.9" fill="#d4b961" stroke="#d8d82a" stroke-width="4.4" stroke-linejoin="round" clip-path="url(#cb)"/>
<rect x="1904" y="684.6" width="574.7" height="58.5" fill="#7d673e" stroke="#5c3d0b" stroke-width="4.4" stroke-linejoin="round" clip-path="url(#cb)"/>
<path class="ax" d="M178 466.7V567.6M154.2 466.7H178M154.2 501.3H178M154.2 534.6H178M154.2 567.6H178"/><text class="yl" x="153.8" y="516.9">0.0</text><text class="yl" x="153.8" y="583.2">−0.4</text>
<path class="ax" d="M178 639.5V735.9M154.2 639.5H178M154.2 672.5H178M154.2 703.5H178M154.2 735.9H178"/><text class="yl" x="153.8" y="688.1">0.0</text><text class="yl" x="153.8" y="751.5">−0.4</text>
<path class="ax" style="stroke-linecap:butt;stroke-width:4.5" d="M178 742.8H1904"/>
<path class="ax" d="M1904 454.8V772.8M1904 748.1H2441.7M2037.7 748.1V772.8M2172.5 748.1V772.8M2307.2 748.1V772.8M2441.7 748.1V772.8"/>
<text class="xl" x="1904" y="812.8">0.00</text>
<text class="xl" x="2037.7" y="812.8">0.02</text>
<text class="xl" x="2172.5" y="812.8">0.04</text>
<text class="xl" x="2307.2" y="812.8">0.06</text>
<text class="xl" x="2441.7" y="812.8">0.08</text>
<!-- row 3 -->
<text class="tt" x="364.5" y="826.1">Pribilof Blue King GE120</text>
<g clip-path="url(#cp)">
<polygon points="178.0,910.9 224.7,909.6 271.3,906.6 318.0,908.4 364.7,909.6 411.4,889.8 458.0,898.4 504.7,903.4 551.4,909.6 598.0,909.6 644.7,912.1 691.4,909.6 738.0,905.9 784.7,912.6 831.4,907.1 878.1,910.9 924.7,908.4 971.4,909.6 1018.1,910.9 1064.7,903.4 1111.4,902.2 1158.1,894.2 1204.7,886.8 1251.4,873.6 1298.1,897.2 1344.8,894.2 1391.4,881.1 1438.1,898.4 1484.8,889.8 1531.4,892.7 1578.1,899.7 1624.8,877.3 1671.4,887.3 1718.1,904.2 1764.8,891.0 1811.5,892.2 1858.1,895.2 1904.8,884.8 1904.8,959.3 1858.1,951.9 1811.5,950.6 1764.8,953.1 1718.1,940.7 1671.4,950.6 1624.8,964.3 1578.1,944.4 1531.4,949.4 1484.8,950.6 1438.1,950.6 1391.4,963.0 1344.8,941.9 1298.1,954.3 1251.4,951.9 1204.7,946.9 1158.1,945.7 1111.4,947.4 1064.7,937.5 1018.1,934.0 971.4,933.2 924.7,934.5 878.1,935.7 831.4,937.5 784.7,935.7 738.0,933.2 691.4,933.2 644.7,934.0 598.0,933.2 551.4,938.2 504.7,941.4 458.0,944.4 411.4,956.3 364.7,940.7 318.0,938.9 271.3,940.7 224.7,937.0 178.0,933.2" fill="rgba(51,86,143,0.38)" stroke="rgba(51,86,143,0.6)" stroke-width="1"/>
<polyline points="178.0,922.5 224.7,922.5 271.3,922.5 318.0,923.3 364.7,923.8 411.4,922.0 458.0,922.5 504.7,922.0 551.4,924.5 598.0,922.0 644.7,924.5 691.4,922.5 738.0,922.0 784.7,924.0 831.4,922.5 878.1,922.5 924.7,922.0 971.4,924.0 1018.1,923.3 1064.7,921.6 1111.4,927.0 1158.1,920.8 1204.7,917.1 1251.4,912.1 1298.1,925.8 1344.8,918.3 1391.4,923.3 1438.1,924.5 1484.8,920.8 1531.4,921.6 1578.1,922.0 1624.8,920.3 1671.4,920.8 1718.1,922.0 1764.8,923.3 1811.5,922.0 1858.1,923.3 1904.8,920.8" fill="none" stroke="#44619a" stroke-width="6.8" stroke-linejoin="round" stroke-linecap="round"/>
<g fill="#44619a"><circle cx="178.0" cy="922.5" r="8.9"/><circle cx="224.7" cy="922.5" r="8.9"/><circle cx="271.3" cy="922.5" r="8.9"/><circle cx="318.0" cy="923.3" r="8.9"/><circle cx="364.7" cy="923.8" r="8.9"/><circle cx="411.4" cy="922.0" r="8.9"/><circle cx="458.0" cy="922.5" r="8.9"/><circle cx="504.7" cy="922.0" r="8.9"/><circle cx="551.4" cy="924.5" r="8.9"/><circle cx="598.0" cy="922.0" r="8.9"/><circle cx="644.7" cy="924.5" r="8.9"/><circle cx="691.4" cy="922.5" r="8.9"/><circle cx="738.0" cy="922.0" r="8.9"/><circle cx="784.7" cy="924.0" r="8.9"/><circle cx="831.4" cy="922.5" r="8.9"/><circle cx="878.1" cy="922.5" r="8.9"/><circle cx="924.7" cy="922.0" r="8.9"/><circle cx="971.4" cy="924.0" r="8.9"/><circle cx="1018.1" cy="923.3" r="8.9"/><circle cx="1064.7" cy="921.6" r="8.9"/><circle cx="1111.4" cy="927.0" r="8.9"/><circle cx="1158.1" cy="920.8" r="8.9"/><circle cx="1204.7" cy="917.1" r="8.9"/><circle cx="1251.4" cy="912.1" r="8.9"/><circle cx="1298.1" cy="925.8" r="8.9"/><circle cx="1344.8" cy="918.3" r="8.9"/><circle cx="1391.4" cy="923.3" r="8.9"/><circle cx="1438.1" cy="924.5" r="8.9"/><circle cx="1484.8" cy="920.8" r="8.9"/><circle cx="1531.4" cy="921.6" r="8.9"/><circle cx="1578.1" cy="922.0" r="8.9"/><circle cx="1624.8" cy="920.3" r="8.9"/><circle cx="1671.4" cy="920.8" r="8.9"/><circle cx="1718.1" cy="922.0" r="8.9"/><circle cx="1764.8" cy="923.3" r="8.9"/><circle cx="1811.5" cy="922.0" r="8.9"/><circle cx="1858.1" cy="923.3" r="8.9"/><circle cx="1904.8" cy="920.8" r="8.9"/></g>
<line class="z" x1="178" y1="922.3" x2="1904" y2="922.3" style="stroke:#141411"/>
<polygon points="178.0,909.6 224.7,904.7 271.3,898.0 318.0,899.7 364.7,907.6 411.4,885.3 458.0,889.3 504.7,889.3 551.4,899.2 598.0,902.2 644.7,910.1 691.4,902.7 738.0,898.4 784.7,906.6 831.4,896.7 878.1,905.2 924.7,904.2 971.4,900.2 1018.1,907.6 1064.7,895.2 1111.4,898.4 1158.1,892.7 1204.7,884.3 1251.4,867.9 1298.1,889.8 1344.8,877.3 1391.4,864.9 1438.1,883.5 1484.8,877.8 1531.4,886.0 1578.1,890.2 1624.8,883.5 1671.4,867.4 1718.1,889.8 1764.8,876.1 1811.5,879.3 1858.1,889.8 1904.8,882.3 1904.8,954.3 1858.1,958.1 1811.5,960.6 1764.8,945.7 1718.1,951.9 1671.4,963.0 1624.8,960.6 1578.1,946.4 1531.4,952.4 1484.8,954.3 1438.1,951.9 1391.4,951.9 1344.8,939.4 1298.1,954.3 1251.4,960.6 1204.7,955.6 1158.1,948.1 1111.4,934.5 1064.7,932.0 1018.1,934.5 971.4,935.7 924.7,938.2 878.1,939.4 831.4,943.2 784.7,935.7 738.0,937.5 691.4,934.5 644.7,935.0 598.0,937.0 551.4,941.9 504.7,963.8 458.0,961.3 411.4,956.8 364.7,941.9 318.0,939.4 271.3,943.2 224.7,938.2 178.0,934.0" fill="rgba(46,146,116,0.23)" stroke="rgba(60,160,125,0.45)" stroke-width="1"/>
<polyline points="178.0,922.0 224.7,920.8 271.3,920.8 318.0,919.6 364.7,925.3 411.4,921.3 458.0,925.0 504.7,926.5 551.4,920.8 598.0,920.8 644.7,923.3 691.4,919.1 738.0,917.6 784.7,921.6 831.4,920.8 878.1,922.0 924.7,921.6 971.4,917.6 1018.1,921.6 1064.7,914.1 1111.4,917.6 1158.1,919.1 1204.7,919.6 1251.4,914.1 1298.1,922.5 1344.8,907.6 1391.4,908.4 1438.1,917.6 1484.8,915.8 1531.4,920.8 1578.1,921.3 1624.8,920.8 1671.4,915.1 1718.1,920.8 1764.8,910.4 1811.5,920.3 1858.1,924.0 1904.8,917.6" fill="none" stroke="#6cbda0" stroke-width="6.8" stroke-dasharray="20 34" stroke-linecap="round" stroke-linejoin="round"/>
<g fill="#6cbda0"><circle cx="178.0" cy="922.0" r="8.9"/><circle cx="224.7" cy="920.8" r="8.9"/><circle cx="271.3" cy="920.8" r="8.9"/><circle cx="318.0" cy="919.6" r="8.9"/><circle cx="364.7" cy="925.3" r="8.9"/><circle cx="411.4" cy="921.3" r="8.9"/><circle cx="458.0" cy="925.0" r="8.9"/><circle cx="504.7" cy="926.5" r="8.9"/><circle cx="551.4" cy="920.8" r="8.9"/><circle cx="598.0" cy="920.8" r="8.9"/><circle cx="644.7" cy="923.3" r="8.9"/><circle cx="691.4" cy="919.1" r="8.9"/><circle cx="738.0" cy="917.6" r="8.9"/><circle cx="784.7" cy="921.6" r="8.9"/><circle cx="831.4" cy="920.8" r="8.9"/><circle cx="878.1" cy="922.0" r="8.9"/><circle cx="924.7" cy="921.6" r="8.9"/><circle cx="971.4" cy="917.6" r="8.9"/><circle cx="1018.1" cy="921.6" r="8.9"/><circle cx="1064.7" cy="914.1" r="8.9"/><circle cx="1111.4" cy="917.6" r="8.9"/><circle cx="1158.1" cy="919.1" r="8.9"/><circle cx="1204.7" cy="919.6" r="8.9"/><circle cx="1251.4" cy="914.1" r="8.9"/><circle cx="1298.1" cy="922.5" r="8.9"/><circle cx="1344.8" cy="907.6" r="8.9"/><circle cx="1391.4" cy="908.4" r="8.9"/><circle cx="1438.1" cy="917.6" r="8.9"/><circle cx="1484.8" cy="915.8" r="8.9"/><circle cx="1531.4" cy="920.8" r="8.9"/><circle cx="1578.1" cy="921.3" r="8.9"/><circle cx="1624.8" cy="920.8" r="8.9"/><circle cx="1671.4" cy="915.1" r="8.9"/><circle cx="1718.1" cy="920.8" r="8.9"/><circle cx="1764.8" cy="910.4" r="8.9"/><circle cx="1811.5" cy="920.3" r="8.9"/><circle cx="1858.1" cy="924.0" r="8.9"/><circle cx="1904.8" cy="917.6" r="8.9"/></g>
</g>
<g clip-path="url(#cp)">
<polygon points="178.0,1069.9 224.7,1068.1 271.3,1064.9 318.0,1066.1 364.7,1068.6 411.4,1056.7 458.0,1064.9 504.7,1060.7 551.4,1065.7 598.0,1065.7 644.7,1068.6 691.4,1066.1 738.0,1067.4 784.7,1066.1 831.4,1066.1 878.1,1068.6 924.7,1066.1 971.4,1067.4 1018.1,1066.1 1064.7,1062.4 1111.4,1061.2 1158.1,1057.5 1204.7,1056.2 1251.4,1047.5 1298.1,1061.2 1344.8,1056.2 1391.4,1050.7 1438.1,1059.2 1484.8,1056.2 1531.4,1057.5 1578.1,1063.7 1624.8,1050.0 1671.4,1055.0 1718.1,1062.4 1764.8,1056.2 1811.5,1057.5 1858.1,1058.7 1904.8,1051.2 1904.8,1099.7 1858.1,1097.2 1811.5,1092.2 1764.8,1092.2 1718.1,1086.5 1671.4,1093.0 1624.8,1102.2 1578.1,1088.5 1531.4,1094.0 1484.8,1093.5 1438.1,1093.0 1391.4,1100.9 1344.8,1089.8 1298.1,1091.0 1251.4,1096.5 1204.7,1088.5 1158.1,1090.5 1111.4,1089.8 1064.7,1084.8 1018.1,1083.5 971.4,1083.5 924.7,1083.5 878.1,1084.8 831.4,1085.5 784.7,1084.8 738.0,1084.8 691.4,1084.8 644.7,1083.0 598.0,1083.0 551.4,1085.5 504.7,1088.5 458.0,1086.0 411.4,1094.0 364.7,1084.8 318.0,1086.0 271.3,1088.0 224.7,1084.8 178.0,1083.0" fill="rgba(110,60,20,0.36)" stroke="rgba(120,70,30,0.4)" stroke-width="1"/>
<polyline points="178.0,1076.6 224.7,1076.1 271.3,1076.6 318.0,1076.6 364.7,1076.6 411.4,1075.6 458.0,1076.1 504.7,1075.6 551.4,1074.8 598.0,1074.8 644.7,1075.6 691.4,1076.1 738.0,1075.6 784.7,1074.8 831.4,1075.6 878.1,1077.3 924.7,1075.6 971.4,1076.6 1018.1,1076.1 1064.7,1073.6 1111.4,1076.1 1158.1,1074.8 1204.7,1072.4 1251.4,1069.9 1298.1,1077.3 1344.8,1073.6 1391.4,1077.3 1438.1,1077.3 1484.8,1075.6 1531.4,1076.1 1578.1,1076.6 1624.8,1076.6 1671.4,1074.8 1718.1,1075.6 1764.8,1074.8 1811.5,1075.6 1858.1,1077.3 1904.8,1074.8" fill="none" stroke="#5d3706" stroke-width="6.8" stroke-linejoin="round" stroke-linecap="round"/>
<g fill="#5d3706"><circle cx="178.0" cy="1076.6" r="8.9"/><circle cx="224.7" cy="1076.1" r="8.9"/><circle cx="271.3" cy="1076.6" r="8.9"/><circle cx="318.0" cy="1076.6" r="8.9"/><circle cx="364.7" cy="1076.6" r="8.9"/><circle cx="411.4" cy="1075.6" r="8.9"/><circle cx="458.0" cy="1076.1" r="8.9"/><circle cx="504.7" cy="1075.6" r="8.9"/><circle cx="551.4" cy="1074.8" r="8.9"/><circle cx="598.0" cy="1074.8" r="8.9"/><circle cx="644.7" cy="1075.6" r="8.9"/><circle cx="691.4" cy="1076.1" r="8.9"/><circle cx="738.0" cy="1075.6" r="8.9"/><circle cx="784.7" cy="1074.8" r="8.9"/><circle cx="831.4" cy="1075.6" r="8.9"/><circle cx="878.1" cy="1077.3" r="8.9"/><circle cx="924.7" cy="1075.6" r="8.9"/><circle cx="971.4" cy="1076.6" r="8.9"/><circle cx="1018.1" cy="1076.1" r="8.9"/><circle cx="1064.7" cy="1073.6" r="8.9"/><circle cx="1111.4" cy="1076.1" r="8.9"/><circle cx="1158.1" cy="1074.8" r="8.9"/><circle cx="1204.7" cy="1072.4" r="8.9"/><circle cx="1251.4" cy="1069.9" r="8.9"/><circle cx="1298.1" cy="1077.3" r="8.9"/><circle cx="1344.8" cy="1073.6" r="8.9"/><circle cx="1391.4" cy="1077.3" r="8.9"/><circle cx="1438.1" cy="1077.3" r="8.9"/><circle cx="1484.8" cy="1075.6" r="8.9"/><circle cx="1531.4" cy="1076.1" r="8.9"/><circle cx="1578.1" cy="1076.6" r="8.9"/><circle cx="1624.8" cy="1076.6" r="8.9"/><circle cx="1671.4" cy="1074.8" r="8.9"/><circle cx="1718.1" cy="1075.6" r="8.9"/><circle cx="1764.8" cy="1074.8" r="8.9"/><circle cx="1811.5" cy="1075.6" r="8.9"/><circle cx="1858.1" cy="1077.3" r="8.9"/><circle cx="1904.8" cy="1074.8" r="8.9"/></g>
<line class="z" x1="178" y1="1076.2" x2="1904" y2="1076.2" style="stroke:#000"/>
<polygon points="178.0,1055.7 224.7,1055.0 271.3,1048.8 318.0,1043.3 364.7,1047.5 411.4,1030.1 458.0,1036.8 504.7,1035.1 551.4,1040.1 598.0,1046.3 644.7,1045.0 691.4,1038.3 738.0,1047.5 784.7,1045.0 831.4,1042.0 878.1,1014.5 924.7,1041.8 971.4,1045.8 1018.1,1014.0 1064.7,1039.3 1111.4,1037.6 1158.1,1037.6 1204.7,1040.1 1251.4,1017.7 1298.1,1026.9 1344.8,1020.2 1391.4,1011.5 1438.1,1020.9 1484.8,1025.9 1531.4,1041.3 1578.1,1033.9 1624.8,1007.8 1671.4,1031.9 1718.1,1038.3 1764.8,1035.1 1811.5,1036.3 1858.1,1023.4 1904.8,1025.9 1904.8,1127.0 1858.1,1124.5 1811.5,1110.9 1764.8,1111.4 1718.1,1108.4 1671.4,1109.6 1624.8,1137.7 1578.1,1102.2 1531.4,1102.2 1484.8,1122.8 1438.1,1120.8 1391.4,1125.8 1344.8,1108.4 1298.1,1109.6 1251.4,1118.8 1204.7,1102.9 1158.1,1102.9 1111.4,1107.1 1064.7,1090.5 1018.1,1126.3 971.4,1096.0 924.7,1107.1 878.1,1126.3 831.4,1102.2 784.7,1093.0 738.0,1091.0 691.4,1103.4 644.7,1093.0 598.0,1096.5 551.4,1093.5 504.7,1116.3 458.0,1113.4 411.4,1115.3 364.7,1098.9 318.0,1099.7 271.3,1098.9 224.7,1090.5 178.0,1093.5" fill="rgba(205,170,60,0.46)" stroke="rgba(205,165,60,0.6)" stroke-width="1"/>
<polyline points="178.0,1074.8 224.7,1072.4 271.3,1074.3 318.0,1071.6 364.7,1073.6 411.4,1073.1 458.0,1074.8 504.7,1075.6 551.4,1067.4 598.0,1070.6 644.7,1069.1 691.4,1069.9 738.0,1069.1 784.7,1069.1 831.4,1072.4 878.1,1070.6 924.7,1074.1 971.4,1070.6 1018.1,1070.6 1064.7,1064.2 1111.4,1073.1 1158.1,1069.9 1204.7,1070.6 1251.4,1068.1 1298.1,1068.6 1344.8,1064.9 1391.4,1068.1 1438.1,1069.9 1484.8,1073.6 1531.4,1071.6 1578.1,1068.1 1624.8,1072.4 1671.4,1070.6 1718.1,1073.6 1764.8,1073.6 1811.5,1073.6 1858.1,1074.8 1904.8,1076.1" fill="none" stroke="#cfc133" stroke-width="6.8" stroke-dasharray="20 34" stroke-linecap="round" stroke-linejoin="round"/>
<g fill="#cfc133"><circle cx="178.0" cy="1074.8" r="8.9"/><circle cx="224.7" cy="1072.4" r="8.9"/><circle cx="271.3" cy="1074.3" r="8.9"/><circle cx="318.0" cy="1071.6" r="8.9"/><circle cx="364.7" cy="1073.6" r="8.9"/><circle cx="411.4" cy="1073.1" r="8.9"/><circle cx="458.0" cy="1074.8" r="8.9"/><circle cx="504.7" cy="1075.6" r="8.9"/><circle cx="551.4" cy="1067.4" r="8.9"/><circle cx="598.0" cy="1070.6" r="8.9"/><circle cx="644.7" cy="1069.1" r="8.9"/><circle cx="691.4" cy="1069.9" r="8.9"/><circle cx="738.0" cy="1069.1" r="8.9"/><circle cx="784.7" cy="1069.1" r="8.9"/><circle cx="831.4" cy="1072.4" r="8.9"/><circle cx="878.1" cy="1070.6" r="8.9"/><circle cx="924.7" cy="1074.1" r="8.9"/><circle cx="971.4" cy="1070.6" r="8.9"/><circle cx="1018.1" cy="1070.6" r="8.9"/><circle cx="1064.7" cy="1064.2" r="8.9"/><circle cx="1111.4" cy="1073.1" r="8.9"/><circle cx="1158.1" cy="1069.9" r="8.9"/><circle cx="1204.7" cy="1070.6" r="8.9"/><circle cx="1251.4" cy="1068.1" r="8.9"/><circle cx="1298.1" cy="1068.6" r="8.9"/><circle cx="1344.8" cy="1064.9" r="8.9"/><circle cx="1391.4" cy="1068.1" r="8.9"/><circle cx="1438.1" cy="1069.9" r="8.9"/><circle cx="1484.8" cy="1073.6" r="8.9"/><circle cx="1531.4" cy="1071.6" r="8.9"/><circle cx="1578.1" cy="1068.1" r="8.9"/><circle cx="1624.8" cy="1072.4" r="8.9"/><circle cx="1671.4" cy="1070.6" r="8.9"/><circle cx="1718.1" cy="1073.6" r="8.9"/><circle cx="1764.8" cy="1073.6" r="8.9"/><circle cx="1811.5" cy="1073.6" r="8.9"/><circle cx="1858.1" cy="1074.8" r="8.9"/><circle cx="1904.8" cy="1076.1" r="8.9"/></g>
</g>
<rect x="1904" y="853.5" width="187.4" height="58.6" fill="#84b8a4" stroke="#5aa48a" stroke-width="4.4" stroke-linejoin="round" clip-path="url(#cb)"/>
<rect x="1904" y="923.8" width="124.7" height="58.9" fill="#5f78a8" stroke="#32508f" stroke-width="4.4" stroke-linejoin="round" clip-path="url(#cb)"/>
<rect x="1904" y="1007.5" width="574.7" height="58.9" fill="#d4b961" stroke="#d8d82a" stroke-width="4.4" stroke-linejoin="round" clip-path="url(#cb)"/>
<rect x="1904" y="1078.4" width="168.2" height="58.5" fill="#7d673e" stroke="#5c3d0b" stroke-width="4.4" stroke-linejoin="round" clip-path="url(#cb)"/>
<path class="ax" d="M178 868V975M154.2 868H178M154.2 895.2H178M154.2 922H178M154.2 948.6H178M154.2 975H178"/><text class="yl" x="153.8" y="883.6">2</text><text class="yl" x="153.8" y="937.6">0</text><text class="yl" x="153.8" y="990.6">−2</text>
<path class="ax" d="M178 1020V1133M154.2 1020H178M154.2 1048.2H178M154.2 1075.7H178M154.2 1104.8H178M154.2 1133H178"/><text class="yl" x="153.8" y="1035.6">4</text><text class="yl" x="153.8" y="1091.3">0</text><text class="yl" x="153.8" y="1148.6">−4</text>
<path class="ax" style="stroke-linecap:butt;stroke-width:4.5" d="M178 1136.6H1904"/>
<path class="ax" d="M1904 848.6V1166.6M1904 1141.9H2438.4M2011.2 1141.9V1166.6M2117.8 1141.9V1166.6M2224.6 1141.9V1166.6M2331.5 1141.9V1166.6M2438.4 1141.9V1166.6"/>
<text class="xl" x="1904" y="1206.6">0.0</text>
<text class="xl" x="2011.2" y="1206.6">0.2</text>
<text class="xl" x="2117.8" y="1206.6">0.4</text>
<text class="xl" x="2224.6" y="1206.6">0.6</text>
<text class="xl" x="2331.5" y="1206.6">0.8</text>
<text class="xl" x="2438.4" y="1206.6">1.0</text>
<!-- row 4 -->
<text class="tt" x="364.5" y="1219.9">Pribilof Red King GE120</text>
<g clip-path="url(#cp)">
<polygon points="178.0,1281.0 224.7,1276.8 271.3,1284.7 318.0,1257.4 364.7,1276.8 411.4,1277.3 458.0,1269.8 504.7,1281.0 551.4,1292.2 598.0,1282.7 644.7,1275.3 691.4,1285.2 738.0,1281.0 784.7,1279.8 831.4,1276.8 878.1,1285.5 924.7,1282.2 971.4,1289.2 1018.1,1288.4 1064.7,1286.0 1111.4,1281.0 1158.1,1278.5 1204.7,1281.0 1251.4,1275.5 1298.1,1280.5 1344.8,1286.0 1391.4,1288.4 1438.1,1282.7 1484.8,1284.7 1531.4,1277.3 1578.1,1277.3 1624.8,1286.0 1671.4,1283.5 1718.1,1281.7 1764.8,1272.8 1811.5,1278.5 1858.1,1284.7 1904.8,1279.3 1904.8,1343.9 1858.1,1338.1 1811.5,1345.6 1764.8,1348.1 1718.1,1341.9 1671.4,1335.7 1624.8,1339.9 1578.1,1348.8 1531.4,1347.3 1484.8,1339.4 1438.1,1333.9 1391.4,1335.7 1344.8,1338.1 1298.1,1340.6 1251.4,1344.3 1204.7,1339.4 1158.1,1344.3 1111.4,1341.9 1064.7,1333.2 1018.1,1333.2 971.4,1333.9 924.7,1341.4 878.1,1335.7 831.4,1343.9 784.7,1341.9 738.0,1338.1 691.4,1337.4 644.7,1348.1 598.0,1339.9 551.4,1329.9 504.7,1339.9 458.0,1349.3 411.4,1340.6 364.7,1341.4 318.0,1356.3 271.3,1339.9 224.7,1343.1 178.0,1344.3" fill="rgba(51,86,143,0.38)" stroke="rgba(51,86,143,0.6)" stroke-width="1"/>
<polyline points="178.0,1311.6 224.7,1310.8 271.3,1311.6 318.0,1307.1 364.7,1310.8 411.4,1310.8 458.0,1310.8 504.7,1309.6 551.4,1309.1 598.0,1310.8 644.7,1311.6 691.4,1310.8 738.0,1310.8 784.7,1309.6 831.4,1310.8 878.1,1310.8 924.7,1311.6 971.4,1311.6 1018.1,1311.6 1064.7,1309.6 1111.4,1311.6 1158.1,1310.8 1204.7,1310.8 1251.4,1310.3 1298.1,1309.6 1344.8,1311.6 1391.4,1311.6 1438.1,1307.6 1484.8,1311.6 1531.4,1312.0 1578.1,1312.0 1624.8,1311.6 1671.4,1309.6 1718.1,1311.6 1764.8,1310.8 1811.5,1311.6 1858.1,1310.8 1904.8,1311.6" fill="none" stroke="#44619a" stroke-width="6.8" stroke-linejoin="round" stroke-linecap="round"/>
<g fill="#44619a"><circle cx="178.0" cy="1311.6" r="8.9"/><circle cx="224.7" cy="1310.8" r="8.9"/><circle cx="271.3" cy="1311.6" r="8.9"/><circle cx="318.0" cy="1307.1" r="8.9"/><circle cx="364.7" cy="1310.8" r="8.9"/><circle cx="411.4" cy="1310.8" r="8.9"/><circle cx="458.0" cy="1310.8" r="8.9"/><circle cx="504.7" cy="1309.6" r="8.9"/><circle cx="551.4" cy="1309.1" r="8.9"/><circle cx="598.0" cy="1310.8" r="8.9"/><circle cx="644.7" cy="1311.6" r="8.9"/><circle cx="691.4" cy="1310.8" r="8.9"/><circle cx="738.0" cy="1310.8" r="8.9"/><circle cx="784.7" cy="1309.6" r="8.9"/><circle cx="831.4" cy="1310.8" r="8.9"/><circle cx="878.1" cy="1310.8" r="8.9"/><circle cx="924.7" cy="1311.6" r="8.9"/><circle cx="971.4" cy="1311.6" r="8.9"/><circle cx="1018.1" cy="1311.6" r="8.9"/><circle cx="1064.7" cy="1309.6" r="8.9"/><circle cx="1111.4" cy="1311.6" r="8.9"/><circle cx="1158.1" cy="1310.8" r="8.9"/><circle cx="1204.7" cy="1310.8" r="8.9"/><circle cx="1251.4" cy="1310.3" r="8.9"/><circle cx="1298.1" cy="1309.6" r="8.9"/><circle cx="1344.8" cy="1311.6" r="8.9"/><circle cx="1391.4" cy="1311.6" r="8.9"/><circle cx="1438.1" cy="1307.6" r="8.9"/><circle cx="1484.8" cy="1311.6" r="8.9"/><circle cx="1531.4" cy="1312.0" r="8.9"/><circle cx="1578.1" cy="1312.0" r="8.9"/><circle cx="1624.8" cy="1311.6" r="8.9"/><circle cx="1671.4" cy="1309.6" r="8.9"/><circle cx="1718.1" cy="1311.6" r="8.9"/><circle cx="1764.8" cy="1310.8" r="8.9"/><circle cx="1811.5" cy="1311.6" r="8.9"/><circle cx="1858.1" cy="1310.8" r="8.9"/><circle cx="1904.8" cy="1311.6" r="8.9"/></g>
<line class="z" x1="178" y1="1310.6" x2="1904" y2="1310.6" style="stroke:#141411"/>
<polygon points="178.0,1290.2 224.7,1290.9 271.3,1289.7 318.0,1275.5 364.7,1282.2 411.4,1280.5 458.0,1284.7 504.7,1289.7 551.4,1295.2 598.0,1286.7 644.7,1288.4 691.4,1295.2 738.0,1287.2 784.7,1293.4 831.4,1286.7 878.1,1290.9 924.7,1290.9 971.4,1293.4 1018.1,1293.4 1064.7,1291.7 1111.4,1289.7 1158.1,1291.7 1204.7,1290.9 1251.4,1290.9 1298.1,1294.7 1344.8,1293.4 1391.4,1295.2 1438.1,1291.7 1484.8,1289.7 1531.4,1292.7 1578.1,1294.7 1624.8,1292.7 1671.4,1291.7 1718.1,1288.4 1764.8,1283.5 1811.5,1288.4 1858.1,1293.4 1904.8,1291.7 1904.8,1332.4 1858.1,1324.5 1811.5,1336.9 1764.8,1333.9 1718.1,1335.7 1671.4,1328.9 1624.8,1333.2 1578.1,1330.7 1531.4,1331.4 1484.8,1334.4 1438.1,1328.2 1391.4,1328.9 1344.8,1329.9 1298.1,1331.4 1251.4,1330.7 1204.7,1331.4 1158.1,1334.4 1111.4,1335.7 1064.7,1333.2 1018.1,1332.4 971.4,1331.4 924.7,1333.2 878.1,1331.4 831.4,1335.7 784.7,1333.9 738.0,1333.2 691.4,1330.7 644.7,1334.9 598.0,1330.7 551.4,1336.4 504.7,1336.4 458.0,1335.7 411.4,1335.7 364.7,1329.9 318.0,1337.4 271.3,1333.9 224.7,1330.7 178.0,1333.9" fill="rgba(46,146,116,0.23)" stroke="rgba(60,160,125,0.45)" stroke-width="1"/>
<polyline points="178.0,1312.0 224.7,1310.1 271.3,1312.0 318.0,1306.6 364.7,1305.8 411.4,1308.3 458.0,1310.3 504.7,1313.3 551.4,1315.3 598.0,1310.8 644.7,1311.6 691.4,1312.5 738.0,1310.8 784.7,1314.0 831.4,1310.8 878.1,1310.8 924.7,1311.6 971.4,1311.6 1018.1,1312.0 1064.7,1310.8 1111.4,1312.5 1158.1,1312.5 1204.7,1310.8 1251.4,1310.3 1298.1,1313.3 1344.8,1312.0 1391.4,1311.6 1438.1,1310.3 1484.8,1312.0 1531.4,1311.6 1578.1,1313.3 1624.8,1312.5 1671.4,1311.6 1718.1,1312.0 1764.8,1309.1 1811.5,1312.5 1858.1,1309.6 1904.8,1312.0" fill="none" stroke="#6cbda0" stroke-width="6.8" stroke-dasharray="20 34" stroke-linecap="round" stroke-linejoin="round"/>
<g fill="#6cbda0"><circle cx="178.0" cy="1312.0" r="8.9"/><circle cx="224.7" cy="1310.1" r="8.9"/><circle cx="271.3" cy="1312.0" r="8.9"/><circle cx="318.0" cy="1306.6" r="8.9"/><circle cx="364.7" cy="1305.8" r="8.9"/><circle cx="411.4" cy="1308.3" r="8.9"/><circle cx="458.0" cy="1310.3" r="8.9"/><circle cx="504.7" cy="1313.3" r="8.9"/><circle cx="551.4" cy="1315.3" r="8.9"/><circle cx="598.0" cy="1310.8" r="8.9"/><circle cx="644.7" cy="1311.6" r="8.9"/><circle cx="691.4" cy="1312.5" r="8.9"/><circle cx="738.0" cy="1310.8" r="8.9"/><circle cx="784.7" cy="1314.0" r="8.9"/><circle cx="831.4" cy="1310.8" r="8.9"/><circle cx="878.1" cy="1310.8" r="8.9"/><circle cx="924.7" cy="1311.6" r="8.9"/><circle cx="971.4" cy="1311.6" r="8.9"/><circle cx="1018.1" cy="1312.0" r="8.9"/><circle cx="1064.7" cy="1310.8" r="8.9"/><circle cx="1111.4" cy="1312.5" r="8.9"/><circle cx="1158.1" cy="1312.5" r="8.9"/><circle cx="1204.7" cy="1310.8" r="8.9"/><circle cx="1251.4" cy="1310.3" r="8.9"/><circle cx="1298.1" cy="1313.3" r="8.9"/><circle cx="1344.8" cy="1312.0" r="8.9"/><circle cx="1391.4" cy="1311.6" r="8.9"/><circle cx="1438.1" cy="1310.3" r="8.9"/><circle cx="1484.8" cy="1312.0" r="8.9"/><circle cx="1531.4" cy="1311.6" r="8.9"/><circle cx="1578.1" cy="1313.3" r="8.9"/><circle cx="1624.8" cy="1312.5" r="8.9"/><circle cx="1671.4" cy="1311.6" r="8.9"/><circle cx="1718.1" cy="1312.0" r="8.9"/><circle cx="1764.8" cy="1309.1" r="8.9"/><circle cx="1811.5" cy="1312.5" r="8.9"/><circle cx="1858.1" cy="1309.6" r="8.9"/><circle cx="1904.8" cy="1312.0" r="8.9"/></g>
</g>
<g clip-path="url(#cp)">
<polygon points="178.0,1452.4 224.7,1442.5 271.3,1441.2 318.0,1418.4 364.7,1418.4 411.4,1418.4 458.0,1423.9 504.7,1419.4 551.4,1444.2 598.0,1445.0 644.7,1445.0 691.4,1447.5 738.0,1449.9 784.7,1443.2 831.4,1444.2 878.1,1449.9 924.7,1445.0 971.4,1448.2 1018.1,1449.9 1064.7,1445.7 1111.4,1440.7 1158.1,1447.5 1204.7,1442.5 1251.4,1444.2 1298.1,1443.2 1344.8,1448.7 1391.4,1450.7 1438.1,1427.6 1484.8,1448.2 1531.4,1439.3 1578.1,1445.7 1624.8,1449.9 1671.4,1443.7 1718.1,1447.5 1764.8,1440.0 1811.5,1445.0 1858.1,1451.2 1904.8,1445.7 1904.8,1490.4 1858.1,1484.7 1811.5,1490.9 1764.8,1493.9 1718.1,1489.7 1671.4,1488.4 1624.8,1484.7 1578.1,1489.7 1531.4,1496.4 1484.8,1486.5 1438.1,1507.1 1391.4,1483.5 1344.8,1487.2 1298.1,1492.2 1251.4,1489.7 1204.7,1491.4 1158.1,1486.5 1111.4,1495.4 1064.7,1487.2 1018.1,1487.2 971.4,1488.4 924.7,1492.2 878.1,1484.0 831.4,1489.7 784.7,1489.7 738.0,1484.0 691.4,1488.4 644.7,1487.2 598.0,1488.4 551.4,1489.7 504.7,1517.8 458.0,1511.3 411.4,1517.0 364.7,1515.8 318.0,1517.8 271.3,1495.9 224.7,1493.9 178.0,1482.2" fill="rgba(110,60,20,0.36)" stroke="rgba(120,70,30,0.4)" stroke-width="1"/>
<polyline points="178.0,1468.1 224.7,1467.3 271.3,1467.3 318.0,1467.3 364.7,1466.6 411.4,1467.3 458.0,1467.3 504.7,1468.1 551.4,1464.8 598.0,1466.6 644.7,1466.6 691.4,1467.3 738.0,1466.6 784.7,1465.6 831.4,1466.6 878.1,1466.6 924.7,1468.1 971.4,1467.3 1018.1,1467.3 1064.7,1466.6 1111.4,1467.3 1158.1,1466.6 1204.7,1467.3 1251.4,1467.3 1298.1,1467.3 1344.8,1467.3 1391.4,1466.6 1438.1,1467.3 1484.8,1467.3 1531.4,1467.3 1578.1,1466.6 1624.8,1467.3 1671.4,1465.6 1718.1,1467.3 1764.8,1467.3 1811.5,1467.3 1858.1,1467.3 1904.8,1467.3" fill="none" stroke="#5d3706" stroke-width="6.8" stroke-linejoin="round" stroke-linecap="round"/>
<g fill="#5d3706"><circle cx="178.0" cy="1468.1" r="8.9"/><circle cx="224.7" cy="1467.3" r="8.9"/><circle cx="271.3" cy="1467.3" r="8.9"/><circle cx="318.0" cy="1467.3" r="8.9"/><circle cx="364.7" cy="1466.6" r="8.9"/><circle cx="411.4" cy="1467.3" r="8.9"/><circle cx="458.0" cy="1467.3" r="8.9"/><circle cx="504.7" cy="1468.1" r="8.9"/><circle cx="551.4" cy="1464.8" r="8.9"/><circle cx="598.0" cy="1466.6" r="8.9"/><circle cx="644.7" cy="1466.6" r="8.9"/><circle cx="691.4" cy="1467.3" r="8.9"/><circle cx="738.0" cy="1466.6" r="8.9"/><circle cx="784.7" cy="1465.6" r="8.9"/><circle cx="831.4" cy="1466.6" r="8.9"/><circle cx="878.1" cy="1466.6" r="8.9"/><circle cx="924.7" cy="1468.1" r="8.9"/><circle cx="971.4" cy="1467.3" r="8.9"/><circle cx="1018.1" cy="1467.3" r="8.9"/><circle cx="1064.7" cy="1466.6" r="8.9"/><circle cx="1111.4" cy="1467.3" r="8.9"/><circle cx="1158.1" cy="1466.6" r="8.9"/><circle cx="1204.7" cy="1467.3" r="8.9"/><circle cx="1251.4" cy="1467.3" r="8.9"/><circle cx="1298.1" cy="1467.3" r="8.9"/><circle cx="1344.8" cy="1467.3" r="8.9"/><circle cx="1391.4" cy="1466.6" r="8.9"/><circle cx="1438.1" cy="1467.3" r="8.9"/><circle cx="1484.8" cy="1467.3" r="8.9"/><circle cx="1531.4" cy="1467.3" r="8.9"/><circle cx="1578.1" cy="1466.6" r="8.9"/><circle cx="1624.8" cy="1467.3" r="8.9"/><circle cx="1671.4" cy="1465.6" r="8.9"/><circle cx="1718.1" cy="1467.3" r="8.9"/><circle cx="1764.8" cy="1467.3" r="8.9"/><circle cx="1811.5" cy="1467.3" r="8.9"/><circle cx="1858.1" cy="1467.3" r="8.9"/><circle cx="1904.8" cy="1467.3" r="8.9"/></g>
<line class="z" x1="178" y1="1466.4" x2="1904" y2="1466.4" style="stroke:#000"/>
<polygon points="178.0,1422.6 224.7,1410.9 271.3,1423.4 318.0,1411.4 364.7,1401.5 411.4,1417.6 458.0,1413.4 504.7,1418.4 551.4,1432.5 598.0,1426.8 644.7,1407.7 691.4,1425.8 738.0,1432.5 784.7,1411.9 831.4,1420.9 878.1,1419.4 924.7,1432.5 971.4,1423.4 1018.1,1423.9 1064.7,1423.9 1111.4,1418.9 1158.1,1420.1 1204.7,1423.4 1251.4,1412.7 1298.1,1415.2 1344.8,1422.6 1391.4,1425.8 1438.1,1415.9 1484.8,1421.9 1531.4,1421.9 1578.1,1405.2 1624.8,1425.1 1671.4,1408.9 1718.1,1421.9 1764.8,1416.9 1811.5,1415.2 1858.1,1416.4 1904.8,1422.6 1904.8,1513.3 1858.1,1519.5 1811.5,1522.7 1764.8,1518.3 1718.1,1514.5 1671.4,1524.5 1624.8,1512.0 1578.1,1530.7 1531.4,1512.0 1484.8,1512.8 1438.1,1518.8 1391.4,1510.3 1344.8,1512.8 1298.1,1518.3 1251.4,1522.7 1204.7,1510.8 1158.1,1517.8 1111.4,1515.3 1064.7,1511.3 1018.1,1513.3 971.4,1516.3 924.7,1499.6 878.1,1513.3 831.4,1513.8 784.7,1523.2 738.0,1502.9 691.4,1508.8 644.7,1522.7 598.0,1507.8 551.4,1510.8 504.7,1515.8 458.0,1522.0 411.4,1517.8 364.7,1528.2 318.0,1522.0 271.3,1515.8 224.7,1523.2 178.0,1513.3" fill="rgba(205,170,60,0.46)" stroke="rgba(205,165,60,0.6)" stroke-width="1"/>
<polyline points="178.0,1467.3 224.7,1466.6 271.3,1469.8 318.0,1466.1 364.7,1464.8 411.4,1468.6 458.0,1467.3 504.7,1467.3 551.4,1471.6 598.0,1466.6 644.7,1465.6 691.4,1466.6 738.0,1467.3 784.7,1467.3 831.4,1466.6 878.1,1466.1 924.7,1465.6 971.4,1469.8 1018.1,1468.6 1064.7,1467.3 1111.4,1467.3 1158.1,1468.6 1204.7,1466.6 1251.4,1467.3 1298.1,1467.3 1344.8,1467.3 1391.4,1467.3 1438.1,1467.3 1484.8,1467.3 1531.4,1467.3 1578.1,1468.1 1624.8,1468.1 1671.4,1466.6 1718.1,1467.3 1764.8,1466.6 1811.5,1468.6 1858.1,1467.3 1904.8,1466.6" fill="none" stroke="#cfc133" stroke-width="6.8" stroke-dasharray="20 34" stroke-linecap="round" stroke-linejoin="round"/>
<g fill="#cfc133"><circle cx="178.0" cy="1467.3" r="8.9"/><circle cx="224.7" cy="1466.6" r="8.9"/><circle cx="271.3" cy="1469.8" r="8.9"/><circle cx="318.0" cy="1466.1" r="8.9"/><circle cx="364.7" cy="1464.8" r="8.9"/><circle cx="411.4" cy="1468.6" r="8.9"/><circle cx="458.0" cy="1467.3" r="8.9"/><circle cx="504.7" cy="1467.3" r="8.9"/><circle cx="551.4" cy="1471.6" r="8.9"/><circle cx="598.0" cy="1466.6" r="8.9"/><circle cx="644.7" cy="1465.6" r="8.9"/><circle cx="691.4" cy="1466.6" r="8.9"/><circle cx="738.0" cy="1467.3" r="8.9"/><circle cx="784.7" cy="1467.3" r="8.9"/><circle cx="831.4" cy="1466.6" r="8.9"/><circle cx="878.1" cy="1466.1" r="8.9"/><circle cx="924.7" cy="1465.6" r="8.9"/><circle cx="971.4" cy="1469.8" r="8.9"/><circle cx="1018.1" cy="1468.6" r="8.9"/><circle cx="1064.7" cy="1467.3" r="8.9"/><circle cx="1111.4" cy="1467.3" r="8.9"/><circle cx="1158.1" cy="1468.6" r="8.9"/><circle cx="1204.7" cy="1466.6" r="8.9"/><circle cx="1251.4" cy="1467.3" r="8.9"/><circle cx="1298.1" cy="1467.3" r="8.9"/><circle cx="1344.8" cy="1467.3" r="8.9"/><circle cx="1391.4" cy="1467.3" r="8.9"/><circle cx="1438.1" cy="1467.3" r="8.9"/><circle cx="1484.8" cy="1467.3" r="8.9"/><circle cx="1531.4" cy="1467.3" r="8.9"/><circle cx="1578.1" cy="1468.1" r="8.9"/><circle cx="1624.8" cy="1468.1" r="8.9"/><circle cx="1671.4" cy="1466.6" r="8.9"/><circle cx="1718.1" cy="1467.3" r="8.9"/><circle cx="1764.8" cy="1466.6" r="8.9"/><circle cx="1811.5" cy="1468.6" r="8.9"/><circle cx="1858.1" cy="1467.3" r="8.9"/><circle cx="1904.8" cy="1466.6" r="8.9"/></g>
</g>
<rect x="1904" y="1247.2" width="132.3" height="58.6" fill="#84b8a4" stroke="#5aa48a" stroke-width="4.4" stroke-linejoin="round" clip-path="url(#cb)"/>
<rect x="1904" y="1317.5" width="97.2" height="58.9" fill="#5f78a8" stroke="#32508f" stroke-width="4.4" stroke-linejoin="round" clip-path="url(#cb)"/>
<rect x="1904" y="1401.2" width="574.7" height="58.9" fill="#d4b961" stroke="#d8d82a" stroke-width="4.4" stroke-linejoin="round" clip-path="url(#cb)"/>
<rect x="1904" y="1472.2" width="140.7" height="58.5" fill="#7d673e" stroke="#5c3d0b" stroke-width="4.4" stroke-linejoin="round" clip-path="url(#cb)"/>
<path class="ax" d="M178 1246.7V1373.8M154.2 1246.7H178M154.2 1267.4H178M154.2 1288.8H178M154.2 1310H178M154.2 1331.5H178M154.2 1352.5H178M154.2 1373.8H178"/><text class="yl" x="153.8" y="1262.3">6</text><text class="yl" x="153.8" y="1304.4">2</text><text class="yl" x="153.8" y="1347.1">−2</text><text class="yl" x="153.8" y="1389.4">−6</text>
<path class="ax" d="M178 1416.2V1515.2M154.2 1416.2H178M154.2 1441.5H178M154.2 1466H178M154.2 1490.6H178M154.2 1515.2H178"/><text class="yl" x="153.8" y="1431.8">10</text><text class="yl" x="153.8" y="1481.6">0</text><text class="yl" x="153.8" y="1530.8">−10</text>
<path class="ax" style="stroke-linecap:butt;stroke-width:4.5" d="M178 1530.4H1904"/>
<path class="ax" d="M1904 1242.4V1560.4M1904 1535.7H2421M2006.9 1535.7V1560.4M2110.5 1535.7V1560.4M2214.1 1535.7V1560.4M2317.4 1535.7V1560.4M2421 1535.7V1560.4"/>
<text class="xl" x="1904" y="1600.4">0.0</text>
<text class="xl" x="2006.9" y="1600.4">0.5</text>
<text class="xl" x="2110.5" y="1600.4">1.0</text>
<text class="xl" x="2214.1" y="1600.4">1.5</text>
<text class="xl" x="2317.4" y="1600.4">2.0</text>
<text class="xl" x="2421" y="1600.4">2.5</text>
<!-- row 5 -->
<text class="tt" x="364.5" y="1613.7">St.Matt Blue King GE90</text>
<g clip-path="url(#cp)">
<polygon points="178.0,1664.8 224.7,1671.8 271.3,1669.3 318.0,1663.6 364.7,1659.8 411.4,1663.6 458.0,1669.8 504.7,1661.8 551.4,1664.3 598.0,1660.3 644.7,1669.3 691.4,1668.5 738.0,1666.8 784.7,1669.8 831.4,1669.8 878.1,1672.3 924.7,1669.3 971.4,1661.1 1018.1,1656.9 1064.7,1662.8 1111.4,1659.8 1158.1,1666.1 1204.7,1655.4 1251.4,1663.6 1298.1,1671.0 1344.8,1666.8 1391.4,1664.3 1438.1,1671.0 1484.8,1667.3 1531.4,1669.3 1578.1,1671.0 1624.8,1667.8 1671.4,1665.3 1718.1,1657.4 1764.8,1658.6 1811.5,1661.1 1858.1,1649.4 1904.8,1656.9 1904.8,1722.5 1858.1,1720.7 1811.5,1721.5 1764.8,1722.5 1718.1,1723.2 1671.4,1709.0 1624.8,1706.6 1578.1,1704.1 1531.4,1712.5 1484.8,1711.5 1438.1,1710.8 1391.4,1707.0 1344.8,1709.5 1298.1,1713.3 1251.4,1729.9 1204.7,1723.2 1158.1,1715.7 1111.4,1715.7 1064.7,1708.3 1018.1,1714.5 971.4,1713.3 924.7,1711.5 878.1,1717.5 831.4,1707.5 784.7,1707.0 738.0,1710.8 691.4,1710.8 644.7,1709.5 598.0,1710.8 551.4,1717.5 504.7,1706.6 458.0,1714.0 411.4,1719.5 364.7,1724.4 318.0,1715.7 271.3,1709.5 224.7,1713.3 178.0,1715.7" fill="rgba(51,86,143,0.38)" stroke="rgba(51,86,143,0.6)" stroke-width="1"/>
<polyline points="178.0,1690.9 224.7,1691.6 271.3,1689.2 318.0,1688.4 364.7,1691.6 411.4,1690.9 458.0,1693.4 504.7,1684.7 551.4,1690.9 598.0,1687.2 644.7,1690.9 691.4,1689.2 738.0,1688.4 784.7,1690.2 831.4,1689.2 878.1,1692.6 924.7,1689.2 971.4,1685.9 1018.1,1684.7 1064.7,1683.4 1111.4,1685.9 1158.1,1690.2 1204.7,1689.2 1251.4,1695.9 1298.1,1692.1 1344.8,1688.4 1391.4,1687.2 1438.1,1690.9 1484.8,1690.2 1531.4,1690.9 1578.1,1687.2 1624.8,1688.4 1671.4,1686.7 1718.1,1689.7 1764.8,1690.2 1811.5,1690.9 1858.1,1685.9 1904.8,1690.9" fill="none" stroke="#44619a" stroke-width="6.8" stroke-linejoin="round" stroke-linecap="round"/>
<g fill="#44619a"><circle cx="178.0" cy="1690.9" r="8.9"/><circle cx="224.7" cy="1691.6" r="8.9"/><circle cx="271.3" cy="1689.2" r="8.9"/><circle cx="318.0" cy="1688.4" r="8.9"/><circle cx="364.7" cy="1691.6" r="8.9"/><circle cx="411.4" cy="1690.9" r="8.9"/><circle cx="458.0" cy="1693.4" r="8.9"/><circle cx="504.7" cy="1684.7" r="8.9"/><circle cx="551.4" cy="1690.9" r="8.9"/><circle cx="598.0" cy="1687.2" r="8.9"/><circle cx="644.7" cy="1690.9" r="8.9"/><circle cx="691.4" cy="1689.2" r="8.9"/><circle cx="738.0" cy="1688.4" r="8.9"/><circle cx="784.7" cy="1690.2" r="8.9"/><circle cx="831.4" cy="1689.2" r="8.9"/><circle cx="878.1" cy="1692.6" r="8.9"/><circle cx="924.7" cy="1689.2" r="8.9"/><circle cx="971.4" cy="1685.9" r="8.9"/><circle cx="1018.1" cy="1684.7" r="8.9"/><circle cx="1064.7" cy="1683.4" r="8.9"/><circle cx="1111.4" cy="1685.9" r="8.9"/><circle cx="1158.1" cy="1690.2" r="8.9"/><circle cx="1204.7" cy="1689.2" r="8.9"/><circle cx="1251.4" cy="1695.9" r="8.9"/><circle cx="1298.1" cy="1692.1" r="8.9"/><circle cx="1344.8" cy="1688.4" r="8.9"/><circle cx="1391.4" cy="1687.2" r="8.9"/><circle cx="1438.1" cy="1690.9" r="8.9"/><circle cx="1484.8" cy="1690.2" r="8.9"/><circle cx="1531.4" cy="1690.9" r="8.9"/><circle cx="1578.1" cy="1687.2" r="8.9"/><circle cx="1624.8" cy="1688.4" r="8.9"/><circle cx="1671.4" cy="1686.7" r="8.9"/><circle cx="1718.1" cy="1689.7" r="8.9"/><circle cx="1764.8" cy="1690.2" r="8.9"/><circle cx="1811.5" cy="1690.9" r="8.9"/><circle cx="1858.1" cy="1685.9" r="8.9"/><circle cx="1904.8" cy="1690.9" r="8.9"/></g>
<line class="z" x1="178" y1="1690.4" x2="1904" y2="1690.4" style="stroke:#141411"/>
<polygon points="178.0,1664.8 224.7,1669.8 271.3,1662.8 318.0,1663.6 364.7,1652.9 411.4,1663.6 458.0,1666.8 504.7,1661.1 551.4,1664.3 598.0,1659.8 644.7,1666.8 691.4,1666.1 738.0,1665.3 784.7,1665.3 831.4,1667.3 878.1,1671.0 924.7,1667.3 971.4,1658.6 1018.1,1653.6 1064.7,1656.1 1111.4,1657.4 1158.1,1662.8 1204.7,1655.4 1251.4,1652.9 1298.1,1662.3 1344.8,1664.3 1391.4,1658.6 1438.1,1666.1 1484.8,1664.3 1531.4,1668.5 1578.1,1671.0 1624.8,1665.3 1671.4,1664.3 1718.1,1656.1 1764.8,1656.1 1811.5,1656.1 1858.1,1652.4 1904.8,1649.4 1904.8,1739.8 1858.1,1729.4 1811.5,1729.4 1764.8,1735.6 1718.1,1734.4 1671.4,1717.5 1624.8,1711.5 1578.1,1708.3 1531.4,1722.5 1484.8,1717.0 1438.1,1719.5 1391.4,1723.9 1344.8,1712.0 1298.1,1718.2 1251.4,1745.6 1204.7,1734.9 1158.1,1730.7 1111.4,1731.4 1064.7,1722.5 1018.1,1735.6 971.4,1725.7 924.7,1722.5 878.1,1724.4 831.4,1712.5 784.7,1712.0 738.0,1719.5 691.4,1718.2 644.7,1714.5 598.0,1718.2 551.4,1728.9 504.7,1720.0 458.0,1722.0 411.4,1733.1 364.7,1736.4 318.0,1724.4 271.3,1715.7 224.7,1728.9 178.0,1717.0" fill="rgba(46,146,116,0.23)" stroke="rgba(60,160,125,0.45)" stroke-width="1"/>
<polyline points="178.0,1690.9 224.7,1699.1 271.3,1688.4 318.0,1694.1 364.7,1693.4 411.4,1699.6 458.0,1693.4 504.7,1690.2 551.4,1697.1 598.0,1688.4 644.7,1690.9 691.4,1692.1 738.0,1692.6 784.7,1688.4 831.4,1690.2 878.1,1698.4 924.7,1694.6 971.4,1691.6 1018.1,1694.6 1064.7,1688.4 1111.4,1694.1 1158.1,1696.6 1204.7,1695.9 1251.4,1699.6 1298.1,1690.2 1344.8,1687.7 1391.4,1691.6 1438.1,1691.6 1484.8,1690.2 1531.4,1696.6 1578.1,1689.7 1624.8,1687.7 1671.4,1691.6 1718.1,1695.1 1764.8,1695.9 1811.5,1692.6 1858.1,1691.6 1904.8,1694.6" fill="none" stroke="#6cbda0" stroke-width="6.8" stroke-dasharray="20 34" stroke-linecap="round" stroke-linejoin="round"/>
<g fill="#6cbda0"><circle cx="178.0" cy="1690.9" r="8.9"/><circle cx="224.7" cy="1699.1" r="8.9"/><circle cx="271.3" cy="1688.4" r="8.9"/><circle cx="318.0" cy="1694.1" r="8.9"/><circle cx="364.7" cy="1693.4" r="8.9"/><circle cx="411.4" cy="1699.6" r="8.9"/><circle cx="458.0" cy="1693.4" r="8.9"/><circle cx="504.7" cy="1690.2" r="8.9"/><circle cx="551.4" cy="1697.1" r="8.9"/><circle cx="598.0" cy="1688.4" r="8.9"/><circle cx="644.7" cy="1690.9" r="8.9"/><circle cx="691.4" cy="1692.1" r="8.9"/><circle cx="738.0" cy="1692.6" r="8.9"/><circle cx="784.7" cy="1688.4" r="8.9"/><circle cx="831.4" cy="1690.2" r="8.9"/><circle cx="878.1" cy="1698.4" r="8.9"/><circle cx="924.7" cy="1694.6" r="8.9"/><circle cx="971.4" cy="1691.6" r="8.9"/><circle cx="1018.1" cy="1694.6" r="8.9"/><circle cx="1064.7" cy="1688.4" r="8.9"/><circle cx="1111.4" cy="1694.1" r="8.9"/><circle cx="1158.1" cy="1696.6" r="8.9"/><circle cx="1204.7" cy="1695.9" r="8.9"/><circle cx="1251.4" cy="1699.6" r="8.9"/><circle cx="1298.1" cy="1690.2" r="8.9"/><circle cx="1344.8" cy="1687.7" r="8.9"/><circle cx="1391.4" cy="1691.6" r="8.9"/><circle cx="1438.1" cy="1691.6" r="8.9"/><circle cx="1484.8" cy="1690.2" r="8.9"/><circle cx="1531.4" cy="1696.6" r="8.9"/><circle cx="1578.1" cy="1689.7" r="8.9"/><circle cx="1624.8" cy="1687.7" r="8.9"/><circle cx="1671.4" cy="1691.6" r="8.9"/><circle cx="1718.1" cy="1695.1" r="8.9"/><circle cx="1764.8" cy="1695.9" r="8.9"/><circle cx="1811.5" cy="1692.6" r="8.9"/><circle cx="1858.1" cy="1691.6" r="8.9"/><circle cx="1904.8" cy="1694.6" r="8.9"/></g>
</g>
<g clip-path="url(#cp)">
<polygon points="178.0,1832.5 224.7,1833.8 271.3,1833.8 318.0,1834.3 364.7,1825.1 411.4,1832.5 458.0,1830.0 504.7,1827.5 551.4,1830.0 598.0,1830.8 644.7,1832.5 691.4,1830.0 738.0,1828.3 784.7,1832.5 831.4,1830.8 878.1,1828.8 924.7,1826.8 971.4,1825.1 1018.1,1823.8 1064.7,1821.8 1111.4,1820.8 1158.1,1830.0 1204.7,1825.8 1251.4,1827.5 1298.1,1831.3 1344.8,1825.8 1391.4,1828.8 1438.1,1831.8 1484.8,1825.1 1531.4,1820.1 1578.1,1828.3 1624.8,1830.8 1671.4,1828.8 1718.1,1808.9 1764.8,1823.8 1811.5,1822.6 1858.1,1816.9 1904.8,1825.1 1904.8,1878.5 1858.1,1876.0 1811.5,1875.5 1764.8,1875.5 1718.1,1873.0 1671.4,1867.3 1624.8,1864.8 1578.1,1863.1 1531.4,1872.3 1484.8,1866.1 1438.1,1867.3 1391.4,1866.6 1344.8,1868.5 1298.1,1864.8 1251.4,1885.9 1204.7,1879.7 1158.1,1872.3 1111.4,1874.8 1064.7,1862.3 1018.1,1868.5 971.4,1866.1 924.7,1867.3 878.1,1867.3 831.4,1863.6 784.7,1866.1 738.0,1866.1 691.4,1866.1 644.7,1863.6 598.0,1868.5 551.4,1874.0 504.7,1863.1 458.0,1869.8 411.4,1877.2 364.7,1878.0 318.0,1879.0 271.3,1864.8 224.7,1872.3 178.0,1879.7" fill="rgba(110,60,20,0.36)" stroke="rgba(120,70,30,0.4)" stroke-width="1"/>
<polyline points="178.0,1856.1 224.7,1850.7 271.3,1848.7 318.0,1856.1 364.7,1850.7 411.4,1854.9 458.0,1849.9 504.7,1844.2 551.4,1853.6 598.0,1851.1 644.7,1849.2 691.4,1848.2 738.0,1847.4 784.7,1849.2 831.4,1846.7 878.1,1848.2 924.7,1846.2 971.4,1845.7 1018.1,1846.7 1064.7,1842.5 1111.4,1848.2 1158.1,1851.1 1204.7,1853.1 1251.4,1856.1 1298.1,1846.7 1344.8,1847.4 1391.4,1846.2 1438.1,1848.7 1484.8,1844.9 1531.4,1845.7 1578.1,1845.7 1624.8,1847.4 1671.4,1848.2 1718.1,1841.2 1764.8,1849.2 1811.5,1848.2 1858.1,1845.7 1904.8,1851.1" fill="none" stroke="#5d3706" stroke-width="6.8" stroke-linejoin="round" stroke-linecap="round"/>
<g fill="#5d3706"><circle cx="178.0" cy="1856.1" r="8.9"/><circle cx="224.7" cy="1850.7" r="8.9"/><circle cx="271.3" cy="1848.7" r="8.9"/><circle cx="318.0" cy="1856.1" r="8.9"/><circle cx="364.7" cy="1850.7" r="8.9"/><circle cx="411.4" cy="1854.9" r="8.9"/><circle cx="458.0" cy="1849.9" r="8.9"/><circle cx="504.7" cy="1844.2" r="8.9"/><circle cx="551.4" cy="1853.6" r="8.9"/><circle cx="598.0" cy="1851.1" r="8.9"/><circle cx="644.7" cy="1849.2" r="8.9"/><circle cx="691.4" cy="1848.2" r="8.9"/><circle cx="738.0" cy="1847.4" r="8.9"/><circle cx="784.7" cy="1849.2" r="8.9"/><circle cx="831.4" cy="1846.7" r="8.9"/><circle cx="878.1" cy="1848.2" r="8.9"/><circle cx="924.7" cy="1846.2" r="8.9"/><circle cx="971.4" cy="1845.7" r="8.9"/><circle cx="1018.1" cy="1846.7" r="8.9"/><circle cx="1064.7" cy="1842.5" r="8.9"/><circle cx="1111.4" cy="1848.2" r="8.9"/><circle cx="1158.1" cy="1851.1" r="8.9"/><circle cx="1204.7" cy="1853.1" r="8.9"/><circle cx="1251.4" cy="1856.1" r="8.9"/><circle cx="1298.1" cy="1846.7" r="8.9"/><circle cx="1344.8" cy="1847.4" r="8.9"/><circle cx="1391.4" cy="1846.2" r="8.9"/><circle cx="1438.1" cy="1848.7" r="8.9"/><circle cx="1484.8" cy="1844.9" r="8.9"/><circle cx="1531.4" cy="1845.7" r="8.9"/><circle cx="1578.1" cy="1845.7" r="8.9"/><circle cx="1624.8" cy="1847.4" r="8.9"/><circle cx="1671.4" cy="1848.2" r="8.9"/><circle cx="1718.1" cy="1841.2" r="8.9"/><circle cx="1764.8" cy="1849.2" r="8.9"/><circle cx="1811.5" cy="1848.2" r="8.9"/><circle cx="1858.1" cy="1845.7" r="8.9"/><circle cx="1904.8" cy="1851.1" r="8.9"/></g>
<line class="z" x1="178" y1="1847.8" x2="1904" y2="1847.8" style="stroke:#000"/>
<polygon points="178.0,1808.9 224.7,1815.9 271.3,1816.9 318.0,1818.9 364.7,1808.4 411.4,1831.8 458.0,1816.9 504.7,1815.1 551.4,1829.3 598.0,1820.8 644.7,1815.1 691.4,1809.4 738.0,1821.8 784.7,1823.8 831.4,1826.3 878.1,1817.6 924.7,1811.9 971.4,1823.3 1018.1,1823.3 1064.7,1808.9 1111.4,1811.9 1158.1,1807.7 1204.7,1821.8 1251.4,1813.4 1298.1,1805.9 1344.8,1803.4 1391.4,1807.7 1438.1,1815.1 1484.8,1802.0 1531.4,1799.0 1578.1,1812.6 1624.8,1817.6 1671.4,1807.7 1718.1,1795.2 1764.8,1797.7 1811.5,1797.7 1858.1,1808.9 1904.8,1806.4 1904.8,1920.7 1858.1,1895.9 1811.5,1913.3 1764.8,1919.5 1718.1,1899.6 1671.4,1899.6 1624.8,1888.9 1578.1,1889.7 1531.4,1906.3 1484.8,1897.9 1438.1,1903.3 1391.4,1898.9 1344.8,1894.6 1298.1,1904.6 1251.4,1925.2 1204.7,1901.3 1158.1,1908.3 1111.4,1902.1 1064.7,1897.1 1018.1,1905.3 971.4,1899.6 924.7,1908.3 878.1,1902.1 831.4,1890.4 784.7,1891.4 738.0,1892.9 691.4,1899.6 644.7,1891.4 598.0,1903.8 551.4,1914.5 504.7,1896.4 458.0,1897.1 411.4,1920.2 364.7,1917.0 318.0,1917.7 271.3,1892.1 224.7,1902.8 178.0,1901.3" fill="rgba(205,170,60,0.46)" stroke="rgba(205,165,60,0.6)" stroke-width="1"/>
<polyline points="178.0,1854.9 224.7,1859.1 271.3,1854.1 318.0,1868.0 364.7,1861.6 411.4,1876.0 458.0,1856.6 504.7,1855.6 551.4,1872.3 598.0,1863.1 644.7,1853.6 691.4,1854.1 738.0,1857.4 784.7,1857.4 831.4,1858.6 878.1,1859.8 924.7,1859.8 971.4,1860.6 1018.1,1864.8 1064.7,1853.1 1111.4,1856.1 1158.1,1858.1 1204.7,1861.1 1251.4,1869.8 1298.1,1854.1 1344.8,1848.7 1391.4,1853.6 1438.1,1859.3 1484.8,1850.7 1531.4,1853.1 1578.1,1851.1 1624.8,1853.6 1671.4,1854.1 1718.1,1847.4 1764.8,1858.6 1811.5,1855.6 1858.1,1853.1 1904.8,1862.3" fill="none" stroke="#cfc133" stroke-width="6.8" stroke-dasharray="20 34" stroke-linecap="round" stroke-linejoin="round"/>
<g fill="#cfc133"><circle cx="178.0" cy="1854.9" r="8.9"/><circle cx="224.7" cy="1859.1" r="8.9"/><circle cx="271.3" cy="1854.1" r="8.9"/><circle cx="318.0" cy="1868.0" r="8.9"/><circle cx="364.7" cy="1861.6" r="8.9"/><circle cx="411.4" cy="1876.0" r="8.9"/><circle cx="458.0" cy="1856.6" r="8.9"/><circle cx="504.7" cy="1855.6" r="8.9"/><circle cx="551.4" cy="1872.3" r="8.9"/><circle cx="598.0" cy="1863.1" r="8.9"/><circle cx="644.7" cy="1853.6" r="8.9"/><circle cx="691.4" cy="1854.1" r="8.9"/><circle cx="738.0" cy="1857.4" r="8.9"/><circle cx="784.7" cy="1857.4" r="8.9"/><circle cx="831.4" cy="1858.6" r="8.9"/><circle cx="878.1" cy="1859.8" r="8.9"/><circle cx="924.7" cy="1859.8" r="8.9"/><circle cx="971.4" cy="1860.6" r="8.9"/><circle cx="1018.1" cy="1864.8" r="8.9"/><circle cx="1064.7" cy="1853.1" r="8.9"/><circle cx="1111.4" cy="1856.1" r="8.9"/><circle cx="1158.1" cy="1858.1" r="8.9"/><circle cx="1204.7" cy="1861.1" r="8.9"/><circle cx="1251.4" cy="1869.8" r="8.9"/><circle cx="1298.1" cy="1854.1" r="8.9"/><circle cx="1344.8" cy="1848.7" r="8.9"/><circle cx="1391.4" cy="1853.6" r="8.9"/><circle cx="1438.1" cy="1859.3" r="8.9"/><circle cx="1484.8" cy="1850.7" r="8.9"/><circle cx="1531.4" cy="1853.1" r="8.9"/><circle cx="1578.1" cy="1851.1" r="8.9"/><circle cx="1624.8" cy="1853.6" r="8.9"/><circle cx="1671.4" cy="1854.1" r="8.9"/><circle cx="1718.1" cy="1847.4" r="8.9"/><circle cx="1764.8" cy="1858.6" r="8.9"/><circle cx="1811.5" cy="1855.6" r="8.9"/><circle cx="1858.1" cy="1853.1" r="8.9"/><circle cx="1904.8" cy="1862.3" r="8.9"/></g>
</g>
<rect x="1904" y="1641.0" width="228.0" height="58.6" fill="#84b8a4" stroke="#5aa48a" stroke-width="4.4" stroke-linejoin="round" clip-path="url(#cb)"/>
<rect x="1904" y="1711.3" width="188.5" height="58.9" fill="#5f78a8" stroke="#32508f" stroke-width="4.4" stroke-linejoin="round" clip-path="url(#cb)"/>
<rect x="1904" y="1795.0" width="574.7" height="58.9" fill="#d4b961" stroke="#d8d82a" stroke-width="4.4" stroke-linejoin="round" clip-path="url(#cb)"/>
<rect x="1904" y="1866.0" width="211.7" height="58.5" fill="#7d673e" stroke="#5c3d0b" stroke-width="4.4" stroke-linejoin="round" clip-path="url(#cb)"/>
<path class="ax" d="M178 1638V1768.4M154.2 1638H178M154.2 1664.5H178M154.2 1690.7H178M154.2 1716.6H178M154.2 1742.5H178M154.2 1768.4H178"/><text class="yl" x="153.8" y="1680.1">0.5</text><text class="yl" x="153.8" y="1732.2">−0.5</text><text class="yl" x="153.8" y="1784.0">−1.5</text>
<path class="ax" d="M178 1807.2V1927.5M154.2 1807.2H178M154.2 1827.6H178M154.2 1847.6H178M154.2 1868H178M154.2 1888H178M154.2 1908.5H178M154.2 1927.5H178"/><text class="yl" x="153.8" y="1822.8">1.0</text><text class="yl" x="153.8" y="1863.2">0.0</text><text class="yl" x="153.8" y="1903.6">−1.0</text><text class="yl" x="153.8" y="1943.1">−2.0</text>
<path class="ax" style="stroke-linecap:butt;stroke-width:4.5" d="M178 1924.2H1904"/>
<path class="ax" d="M1904 1636.2V1954.2M1904 1929.5H2365.6M2018.8 1929.5V1954.2M2134.4 1929.5V1954.2M2250 1929.5V1954.2M2365.6 1929.5V1954.2"/>
<text class="xl" x="1904" y="1994.2">0.0</text>
<text class="xl" x="2018.8" y="1994.2">0.1</text>
<text class="xl" x="2134.4" y="1994.2">0.2</text>
<text class="xl" x="2250" y="1994.2">0.3</text>
<text class="xl" x="2365.6" y="1994.2">0.4</text>
<!-- row 6 -->
<text class="tt" x="364.5" y="2007.5">St.Matt Blue King GE105</text>
<g clip-path="url(#cp)">
<polygon points="178.0,2064.8 224.7,2066.8 271.3,2067.8 318.0,2059.3 364.7,2045.4 411.4,2060.3 458.0,2061.8 504.7,2056.1 551.4,2063.5 598.0,2069.3 644.7,2066.0 691.4,2066.0 738.0,2067.3 784.7,2068.5 831.4,2069.8 878.1,2064.8 924.7,2061.8 971.4,2064.8 1018.1,2054.8 1064.7,2054.8 1111.4,2056.1 1158.1,2058.6 1204.7,2062.3 1251.4,2053.6 1298.1,2061.8 1344.8,2060.3 1391.4,2059.8 1438.1,2063.5 1484.8,2064.8 1531.4,2063.5 1578.1,2066.0 1624.8,2064.8 1671.4,2053.6 1718.1,2056.1 1764.8,2061.1 1811.5,2056.8 1858.1,2053.6 1904.8,2050.4 1904.8,2118.9 1858.1,2110.0 1811.5,2109.5 1764.8,2104.5 1718.1,2109.5 1671.4,2105.8 1624.8,2105.8 1578.1,2100.8 1531.4,2106.5 1484.8,2102.0 1438.1,2104.5 1391.4,2102.5 1344.8,2101.6 1298.1,2103.3 1251.4,2124.9 1204.7,2109.5 1158.1,2104.0 1111.4,2104.5 1064.7,2107.5 1018.1,2112.0 971.4,2102.5 924.7,2107.0 878.1,2102.5 831.4,2098.3 784.7,2098.3 738.0,2099.6 691.4,2104.5 644.7,2101.6 598.0,2104.5 551.4,2105.8 504.7,2099.6 458.0,2107.0 411.4,2107.0 364.7,2118.9 318.0,2109.5 271.3,2102.5 224.7,2106.5 178.0,2109.5" fill="rgba(51,86,143,0.38)" stroke="rgba(51,86,143,0.6)" stroke-width="1"/>
<polyline points="178.0,2085.9 224.7,2084.7 271.3,2085.2 318.0,2085.2 364.7,2082.2 411.4,2083.4 458.0,2085.9 504.7,2077.2 551.4,2084.2 598.0,2087.6 644.7,2084.2 691.4,2083.4 738.0,2082.7 784.7,2083.4 831.4,2084.2 878.1,2082.7 924.7,2083.4 971.4,2083.4 1018.1,2083.4 1064.7,2080.9 1111.4,2080.9 1158.1,2082.2 1204.7,2085.2 1251.4,2089.1 1298.1,2083.4 1344.8,2080.9 1391.4,2081.7 1438.1,2084.2 1484.8,2084.2 1531.4,2085.2 1578.1,2082.7 1624.8,2085.9 1671.4,2078.4 1718.1,2082.2 1764.8,2082.7 1811.5,2082.7 1858.1,2079.7 1904.8,2085.2" fill="none" stroke="#44619a" stroke-width="6.8" stroke-linejoin="round" stroke-linecap="round"/>
<g fill="#44619a"><circle cx="178.0" cy="2085.9" r="8.9"/><circle cx="224.7" cy="2084.7" r="8.9"/><circle cx="271.3" cy="2085.2" r="8.9"/><circle cx="318.0" cy="2085.2" r="8.9"/><circle cx="364.7" cy="2082.2" r="8.9"/><circle cx="411.4" cy="2083.4" r="8.9"/><circle cx="458.0" cy="2085.9" r="8.9"/><circle cx="504.7" cy="2077.2" r="8.9"/><circle cx="551.4" cy="2084.2" r="8.9"/><circle cx="598.0" cy="2087.6" r="8.9"/><circle cx="644.7" cy="2084.2" r="8.9"/><circle cx="691.4" cy="2083.4" r="8.9"/><circle cx="738.0" cy="2082.7" r="8.9"/><circle cx="784.7" cy="2083.4" r="8.9"/><circle cx="831.4" cy="2084.2" r="8.9"/><circle cx="878.1" cy="2082.7" r="8.9"/><circle cx="924.7" cy="2083.4" r="8.9"/><circle cx="971.4" cy="2083.4" r="8.9"/><circle cx="1018.1" cy="2083.4" r="8.9"/><circle cx="1064.7" cy="2080.9" r="8.9"/><circle cx="1111.4" cy="2080.9" r="8.9"/><circle cx="1158.1" cy="2082.2" r="8.9"/><circle cx="1204.7" cy="2085.2" r="8.9"/><circle cx="1251.4" cy="2089.1" r="8.9"/><circle cx="1298.1" cy="2083.4" r="8.9"/><circle cx="1344.8" cy="2080.9" r="8.9"/><circle cx="1391.4" cy="2081.7" r="8.9"/><circle cx="1438.1" cy="2084.2" r="8.9"/><circle cx="1484.8" cy="2084.2" r="8.9"/><circle cx="1531.4" cy="2085.2" r="8.9"/><circle cx="1578.1" cy="2082.7" r="8.9"/><circle cx="1624.8" cy="2085.9" r="8.9"/><circle cx="1671.4" cy="2078.4" r="8.9"/><circle cx="1718.1" cy="2082.2" r="8.9"/><circle cx="1764.8" cy="2082.7" r="8.9"/><circle cx="1811.5" cy="2082.7" r="8.9"/><circle cx="1858.1" cy="2079.7" r="8.9"/><circle cx="1904.8" cy="2085.2" r="8.9"/></g>
<line class="z" x1="178" y1="2084.6" x2="1904" y2="2084.6" style="stroke:#141411"/>
<polygon points="178.0,2064.8 224.7,2066.8 271.3,2062.8 318.0,2053.6 364.7,2042.9 411.4,2058.6 458.0,2057.3 504.7,2056.1 551.4,2064.8 598.0,2066.0 644.7,2064.8 691.4,2065.3 738.0,2065.3 784.7,2064.8 831.4,2066.8 878.1,2063.5 924.7,2059.8 971.4,2059.8 1018.1,2054.8 1064.7,2054.8 1111.4,2049.9 1158.1,2050.4 1204.7,2061.8 1251.4,2047.4 1298.1,2057.3 1344.8,2060.3 1391.4,2054.3 1438.1,2062.8 1484.8,2062.3 1531.4,2063.5 1578.1,2062.8 1624.8,2062.8 1671.4,2056.8 1718.1,2052.4 1764.8,2059.3 1811.5,2047.4 1858.1,2051.1 1904.8,2047.4 1904.8,2137.3 1858.1,2121.4 1811.5,2124.4 1764.8,2116.5 1718.1,2115.7 1671.4,2114.0 1624.8,2105.8 1578.1,2106.5 1531.4,2110.0 1484.8,2109.0 1438.1,2108.3 1391.4,2110.0 1344.8,2107.5 1298.1,2107.0 1251.4,2139.3 1204.7,2122.4 1158.1,2119.4 1111.4,2119.4 1064.7,2128.1 1018.1,2125.7 971.4,2112.0 924.7,2115.7 878.1,2113.2 831.4,2102.0 784.7,2102.0 738.0,2105.8 691.4,2115.7 644.7,2110.0 598.0,2110.7 551.4,2126.4 504.7,2110.0 458.0,2115.0 411.4,2123.2 364.7,2124.9 318.0,2115.0 271.3,2104.0 224.7,2115.7 178.0,2109.5" fill="rgba(46,146,116,0.23)" stroke="rgba(60,160,125,0.45)" stroke-width="1"/>
<polyline points="178.0,2087.1 224.7,2090.9 271.3,2083.4 318.0,2085.2 364.7,2083.4 411.4,2090.9 458.0,2086.6 504.7,2082.2 551.4,2095.8 598.0,2087.6 644.7,2087.1 691.4,2090.9 738.0,2085.2 784.7,2083.4 831.4,2084.2 878.1,2088.4 924.7,2087.6 971.4,2084.7 1018.1,2090.9 1064.7,2091.6 1111.4,2083.4 1158.1,2084.7 1204.7,2092.6 1251.4,2093.4 1298.1,2082.2 1344.8,2084.7 1391.4,2082.2 1438.1,2085.2 1484.8,2084.7 1531.4,2087.6 1578.1,2084.2 1624.8,2084.7 1671.4,2086.6 1718.1,2083.4 1764.8,2088.4 1811.5,2085.9 1858.1,2087.1 1904.8,2093.4" fill="none" stroke="#6cbda0" stroke-width="6.8" stroke-dasharray="20 34" stroke-linecap="round" stroke-linejoin="round"/>
<g fill="#6cbda0"><circle cx="178.0" cy="2087.1" r="8.9"/><circle cx="224.7" cy="2090.9" r="8.9"/><circle cx="271.3" cy="2083.4" r="8.9"/><circle cx="318.0" cy="2085.2" r="8.9"/><circle cx="364.7" cy="2083.4" r="8.9"/><circle cx="411.4" cy="2090.9" r="8.9"/><circle cx="458.0" cy="2086.6" r="8.9"/><circle cx="504.7" cy="2082.2" r="8.9"/><circle cx="551.4" cy="2095.8" r="8.9"/><circle cx="598.0" cy="2087.6" r="8.9"/><circle cx="644.7" cy="2087.1" r="8.9"/><circle cx="691.4" cy="2090.9" r="8.9"/><circle cx="738.0" cy="2085.2" r="8.9"/><circle cx="784.7" cy="2083.4" r="8.9"/><circle cx="831.4" cy="2084.2" r="8.9"/><circle cx="878.1" cy="2088.4" r="8.9"/><circle cx="924.7" cy="2087.6" r="8.9"/><circle cx="971.4" cy="2084.7" r="8.9"/><circle cx="1018.1" cy="2090.9" r="8.9"/><circle cx="1064.7" cy="2091.6" r="8.9"/><circle cx="1111.4" cy="2083.4" r="8.9"/><circle cx="1158.1" cy="2084.7" r="8.9"/><circle cx="1204.7" cy="2092.6" r="8.9"/><circle cx="1251.4" cy="2093.4" r="8.9"/><circle cx="1298.1" cy="2082.2" r="8.9"/><circle cx="1344.8" cy="2084.7" r="8.9"/><circle cx="1391.4" cy="2082.2" r="8.9"/><circle cx="1438.1" cy="2085.2" r="8.9"/><circle cx="1484.8" cy="2084.7" r="8.9"/><circle cx="1531.4" cy="2087.6" r="8.9"/><circle cx="1578.1" cy="2084.2" r="8.9"/><circle cx="1624.8" cy="2084.7" r="8.9"/><circle cx="1671.4" cy="2086.6" r="8.9"/><circle cx="1718.1" cy="2083.4" r="8.9"/><circle cx="1764.8" cy="2088.4" r="8.9"/><circle cx="1811.5" cy="2085.9" r="8.9"/><circle cx="1858.1" cy="2087.1" r="8.9"/><circle cx="1904.8" cy="2093.4" r="8.9"/></g>
</g>
<g clip-path="url(#cp)">
<polygon points="178.0,2222.5 224.7,2219.3 271.3,2226.8 318.0,2225.0 364.7,2205.2 411.4,2221.3 458.0,2217.6 504.7,2215.8 551.4,2223.3 598.0,2235.0 644.7,2222.5 691.4,2220.8 738.0,2221.8 784.7,2226.3 831.4,2225.0 878.1,2217.6 924.7,2208.4 971.4,2223.8 1018.1,2214.3 1064.7,2210.9 1111.4,2205.2 1158.1,2213.9 1204.7,2222.5 1251.4,2215.1 1298.1,2213.9 1344.8,2211.4 1391.4,2214.3 1438.1,2215.8 1484.8,2216.3 1531.4,2210.9 1578.1,2221.3 1624.8,2220.1 1671.4,2206.4 1718.1,2191.5 1764.8,2217.6 1811.5,2208.4 1858.1,2209.4 1904.8,2212.6 1904.8,2283.4 1858.1,2270.5 1811.5,2274.7 1764.8,2266.0 1718.1,2268.5 1671.4,2266.0 1624.8,2266.0 1578.1,2259.8 1531.4,2268.0 1484.8,2266.0 1438.1,2269.0 1391.4,2259.8 1344.8,2262.3 1298.1,2258.6 1251.4,2295.8 1204.7,2272.2 1158.1,2267.3 1111.4,2274.7 1064.7,2267.3 1018.1,2277.2 971.4,2264.8 924.7,2275.5 878.1,2263.5 831.4,2257.3 784.7,2261.1 738.0,2258.6 691.4,2261.1 644.7,2263.5 598.0,2273.5 551.4,2268.0 504.7,2257.3 458.0,2263.5 411.4,2276.0 364.7,2283.4 318.0,2277.2 271.3,2258.6 224.7,2263.5 178.0,2276.0" fill="rgba(110,60,20,0.36)" stroke="rgba(120,70,30,0.4)" stroke-width="1"/>
<polyline points="178.0,2246.1 224.7,2241.7 271.3,2242.4 318.0,2250.6 364.7,2243.2 411.4,2247.4 458.0,2239.9 504.7,2235.7 551.4,2245.7 598.0,2253.6 644.7,2243.2 691.4,2241.2 738.0,2239.9 784.7,2243.7 831.4,2239.9 878.1,2239.2 924.7,2242.4 971.4,2243.2 1018.1,2244.2 1064.7,2238.2 1111.4,2239.2 1158.1,2239.9 1204.7,2247.4 1251.4,2254.8 1298.1,2235.7 1344.8,2236.2 1391.4,2235.7 1438.1,2241.7 1484.8,2239.9 1531.4,2238.7 1578.1,2239.9 1624.8,2243.2 1671.4,2235.7 1718.1,2229.3 1764.8,2240.7 1811.5,2240.7 1858.1,2238.7 1904.8,2248.6" fill="none" stroke="#5d3706" stroke-width="6.8" stroke-linejoin="round" stroke-linecap="round"/>
<g fill="#5d3706"><circle cx="178.0" cy="2246.1" r="8.9"/><circle cx="224.7" cy="2241.7" r="8.9"/><circle cx="271.3" cy="2242.4" r="8.9"/><circle cx="318.0" cy="2250.6" r="8.9"/><circle cx="364.7" cy="2243.2" r="8.9"/><circle cx="411.4" cy="2247.4" r="8.9"/><circle cx="458.0" cy="2239.9" r="8.9"/><circle cx="504.7" cy="2235.7" r="8.9"/><circle cx="551.4" cy="2245.7" r="8.9"/><circle cx="598.0" cy="2253.6" r="8.9"/><circle cx="644.7" cy="2243.2" r="8.9"/><circle cx="691.4" cy="2241.2" r="8.9"/><circle cx="738.0" cy="2239.9" r="8.9"/><circle cx="784.7" cy="2243.7" r="8.9"/><circle cx="831.4" cy="2239.9" r="8.9"/><circle cx="878.1" cy="2239.2" r="8.9"/><circle cx="924.7" cy="2242.4" r="8.9"/><circle cx="971.4" cy="2243.2" r="8.9"/><circle cx="1018.1" cy="2244.2" r="8.9"/><circle cx="1064.7" cy="2238.2" r="8.9"/><circle cx="1111.4" cy="2239.2" r="8.9"/><circle cx="1158.1" cy="2239.9" r="8.9"/><circle cx="1204.7" cy="2247.4" r="8.9"/><circle cx="1251.4" cy="2254.8" r="8.9"/><circle cx="1298.1" cy="2235.7" r="8.9"/><circle cx="1344.8" cy="2236.2" r="8.9"/><circle cx="1391.4" cy="2235.7" r="8.9"/><circle cx="1438.1" cy="2241.7" r="8.9"/><circle cx="1484.8" cy="2239.9" r="8.9"/><circle cx="1531.4" cy="2238.7" r="8.9"/><circle cx="1578.1" cy="2239.9" r="8.9"/><circle cx="1624.8" cy="2243.2" r="8.9"/><circle cx="1671.4" cy="2235.7" r="8.9"/><circle cx="1718.1" cy="2229.3" r="8.9"/><circle cx="1764.8" cy="2240.7" r="8.9"/><circle cx="1811.5" cy="2240.7" r="8.9"/><circle cx="1858.1" cy="2238.7" r="8.9"/><circle cx="1904.8" cy="2248.6" r="8.9"/></g>
<line class="z" x1="178" y1="2243.3" x2="1904" y2="2243.3" style="stroke:#000"/>
<polygon points="178.0,2224.3 224.7,2226.3 271.3,2230.7 318.0,2231.7 364.7,2205.2 411.4,2235.0 458.0,2223.3 504.7,2221.3 551.4,2228.8 598.0,2242.4 644.7,2228.3 691.4,2226.8 738.0,2228.8 784.7,2231.7 831.4,2235.0 878.1,2228.8 924.7,2210.9 971.4,2227.5 1018.1,2220.1 1064.7,2220.1 1111.4,2210.1 1158.1,2216.3 1204.7,2231.7 1251.4,2216.3 1298.1,2218.8 1344.8,2221.3 1391.4,2215.8 1438.1,2221.3 1484.8,2221.3 1531.4,2217.6 1578.1,2221.3 1624.8,2227.5 1671.4,2215.1 1718.1,2189.0 1764.8,2221.3 1811.5,2205.2 1858.1,2214.3 1904.8,2213.4 1904.8,2307.0 1858.1,2288.4 1811.5,2293.9 1764.8,2284.7 1718.1,2281.4 1671.4,2278.4 1624.8,2273.0 1578.1,2274.7 1531.4,2278.0 1484.8,2279.7 1438.1,2282.9 1391.4,2278.4 1344.8,2274.7 1298.1,2274.7 1251.4,2318.2 1204.7,2295.3 1158.1,2293.4 1111.4,2297.1 1064.7,2298.8 1018.1,2294.6 971.4,2285.9 924.7,2287.9 878.1,2282.2 831.4,2277.2 784.7,2274.0 738.0,2272.2 691.4,2280.4 644.7,2282.2 598.0,2292.9 551.4,2303.8 504.7,2278.9 458.0,2281.4 411.4,2305.8 364.7,2292.1 318.0,2295.3 271.3,2271.0 224.7,2287.9 178.0,2276.5" fill="rgba(205,170,60,0.46)" stroke="rgba(205,165,60,0.6)" stroke-width="1"/>
<polyline points="178.0,2251.1 224.7,2258.6 271.3,2250.6 318.0,2263.5 364.7,2248.1 411.4,2269.8 458.0,2252.4 504.7,2251.1 551.4,2270.5 598.0,2268.5 644.7,2253.6 691.4,2254.1 738.0,2249.9 784.7,2252.4 831.4,2254.8 878.1,2254.8 924.7,2249.1 971.4,2256.6 1018.1,2257.3 1064.7,2259.8 1111.4,2253.6 1158.1,2253.6 1204.7,2264.0 1251.4,2267.3 1298.1,2248.1 1344.8,2248.1 1391.4,2247.4 1438.1,2252.4 1484.8,2249.9 1531.4,2248.1 1578.1,2248.1 1624.8,2250.6 1671.4,2248.1 1718.1,2235.0 1764.8,2253.1 1811.5,2249.1 1858.1,2251.6 1904.8,2260.6" fill="none" stroke="#cfc133" stroke-width="6.8" stroke-dasharray="20 34" stroke-linecap="round" stroke-linejoin="round"/>
<g fill="#cfc133"><circle cx="178.0" cy="2251.1" r="8.9"/><circle cx="224.7" cy="2258.6" r="8.9"/><circle cx="271.3" cy="2250.6" r="8.9"/><circle cx="318.0" cy="2263.5" r="8.9"/><circle cx="364.7" cy="2248.1" r="8.9"/><circle cx="411.4" cy="2269.8" r="8.9"/><circle cx="458.0" cy="2252.4" r="8.9"/><circle cx="504.7" cy="2251.1" r="8.9"/><circle cx="551.4" cy="2270.5" r="8.9"/><circle cx="598.0" cy="2268.5" r="8.9"/><circle cx="644.7" cy="2253.6" r="8.9"/><circle cx="691.4" cy="2254.1" r="8.9"/><circle cx="738.0" cy="2249.9" r="8.9"/><circle cx="784.7" cy="2252.4" r="8.9"/><circle cx="831.4" cy="2254.8" r="8.9"/><circle cx="878.1" cy="2254.8" r="8.9"/><circle cx="924.7" cy="2249.1" r="8.9"/><circle cx="971.4" cy="2256.6" r="8.9"/><circle cx="1018.1" cy="2257.3" r="8.9"/><circle cx="1064.7" cy="2259.8" r="8.9"/><circle cx="1111.4" cy="2253.6" r="8.9"/><circle cx="1158.1" cy="2253.6" r="8.9"/><circle cx="1204.7" cy="2264.0" r="8.9"/><circle cx="1251.4" cy="2267.3" r="8.9"/><circle cx="1298.1" cy="2248.1" r="8.9"/><circle cx="1344.8" cy="2248.1" r="8.9"/><circle cx="1391.4" cy="2247.4" r="8.9"/><circle cx="1438.1" cy="2252.4" r="8.9"/><circle cx="1484.8" cy="2249.9" r="8.9"/><circle cx="1531.4" cy="2248.1" r="8.9"/><circle cx="1578.1" cy="2248.1" r="8.9"/><circle cx="1624.8" cy="2250.6" r="8.9"/><circle cx="1671.4" cy="2248.1" r="8.9"/><circle cx="1718.1" cy="2235.0" r="8.9"/><circle cx="1764.8" cy="2253.1" r="8.9"/><circle cx="1811.5" cy="2249.1" r="8.9"/><circle cx="1858.1" cy="2251.6" r="8.9"/><circle cx="1904.8" cy="2260.6" r="8.9"/></g>
</g>
<rect x="1904" y="2034.8" width="386.7" height="58.6" fill="#84b8a4" stroke="#5aa48a" stroke-width="4.4" stroke-linejoin="round" clip-path="url(#cb)"/>
<rect x="1904" y="2105.2" width="311.0" height="58.9" fill="#5f78a8" stroke="#32508f" stroke-width="4.4" stroke-linejoin="round" clip-path="url(#cb)"/>
<rect x="1904" y="2188.8" width="574.7" height="58.9" fill="#d4b961" stroke="#d8d82a" stroke-width="4.4" stroke-linejoin="round" clip-path="url(#cb)"/>
<rect x="1904" y="2259.8" width="353.7" height="58.5" fill="#7d673e" stroke="#5c3d0b" stroke-width="4.4" stroke-linejoin="round" clip-path="url(#cb)"/>
<path class="ax" d="M178 2033.2V2161.6M154.2 2033.2H178M154.2 2059H178M154.2 2084.6H178M154.2 2110.2H178M154.2 2136H178M154.2 2161.6H178"/><text class="yl" x="153.8" y="2074.6">0.5</text><text class="yl" x="153.8" y="2125.8">−0.5</text><text class="yl" x="153.8" y="2177.2">−1.5</text>
<path class="ax" d="M178 2189V2297.2M154.2 2189H178M154.2 2216.6H178M154.2 2243.5H178M154.2 2270.6H178M154.2 2297.2H178"/><text class="yl" x="153.8" y="2204.6">1.0</text><text class="yl" x="153.8" y="2259.1">0.0</text><text class="yl" x="153.8" y="2312.8">−1.0</text>
<path class="ax" style="stroke-linecap:butt;stroke-width:4.5" d="M178 2318.0H1904"/>
<path class="ax" d="M1904 2030.0V2348.0M1904 2323.3H2406.9M2004.3 2323.3V2348.0M2105 2323.3V2348.0M2205.8 2323.3V2348.0M2306.5 2323.3V2348.0M2406.9 2323.3V2348.0"/>
<text class="xl" x="1904" y="2388.0">0.00</text>
<text class="xl" x="2105" y="2388.0">0.10</text>
<text class="xl" x="2306.5" y="2388.0">0.20</text>
<line x1="187.3" y1="198.5" x2="245.4" y2="198.5" stroke="#33568f" stroke-width="5" stroke-linecap="round"/><circle cx="216.4" cy="198.5" r="9.5" fill="#33568f"/>
<text class="lg" x="260" y="210.5">Model:corners</text>
<line x1="536.4" y1="198.5" x2="595.3" y2="198.5" stroke="#6ec3a3" stroke-width="5" stroke-linecap="round"/><circle cx="565.4" cy="198.5" r="9.5" fill="#6ec3a3"/>
<text class="lg" x="610" y="210.5">Model:no corners</text>
<line x1="933" y1="198.5" x2="992" y2="198.5" stroke="#5e3c0a" stroke-width="5" stroke-linecap="round"/><circle cx="962" cy="198.5" r="9.5" fill="#5e3c0a"/>
<text class="lg" x="1007.5" y="210.5">Design:corners</text>
<line x1="1306.6" y1="198.5" x2="1365" y2="198.5" stroke="#d9d72f" stroke-width="5" stroke-linecap="round"/><circle cx="1335.6" cy="198.5" r="9.5" fill="#d9d72f"/>
<text class="lg" x="1380" y="210.5">Design:no corners</text>
<path class="ax" d="M318.0 2323.5H1718.1M318.0 2323.5V2348M551.4 2323.5V2348M784.7 2323.5V2348M1018.1 2323.5V2348M1251.4 2323.5V2348M1484.8 2323.5V2348M1718.1 2323.5V2348"/>
<text class="xl" x="318.0" y="2387">1985</text>
<text class="xl" x="551.4" y="2387">1990</text>
<text class="xl" x="784.7" y="2387">1995</text>
<text class="xl" x="1018.1" y="2387">2000</text>
<text class="xl" x="1251.4" y="2387">2005</text>
<text class="xl" x="1484.8" y="2387">2010</text>
<text class="xl" x="1718.1" y="2387">2015</text>
<text x="1042" y="2460" text-anchor="middle" style="font-size:50.5px">Year</text>
<text x="2500" y="2460" text-anchor="end" style="font-size:41.2px">Median symmetric accuracy (MSA)</text>
<text transform="translate(38.3,1215) rotate(-90)" text-anchor="middle" style="font-size:51.6px">Log accuracy ratio (LAR)</text>
</svg></body></html>
